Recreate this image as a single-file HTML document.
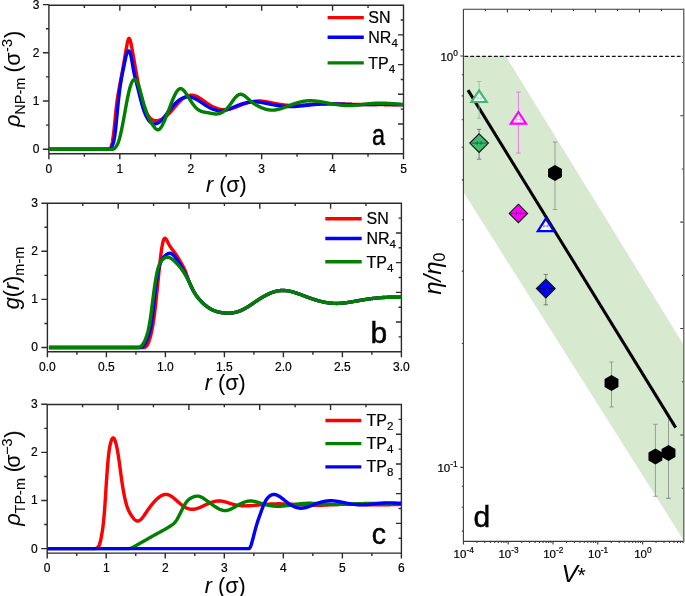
<!DOCTYPE html>
<html><head><meta charset="utf-8"><style>
html,body{margin:0;padding:0;background:#fff;overflow:hidden}
svg{display:block;will-change:transform}
text{font-family:"Liberation Sans", sans-serif;fill:#000;stroke:#000;stroke-width:0.2px}
</style></head><body>
<svg width="685" height="596" viewBox="0 0 685 596">
<rect width="685" height="596" fill="#fff"/>
<path d="M48.9 5.2 H403.5 V153.7 H48.9 Z M48.9 153.7 V159.2 M119.82 153.7 V159.2 M190.74 153.7 V159.2 M261.66 153.7 V159.2 M332.58 153.7 V159.2 M403.5 153.7 V159.2 M84.36 153.7 V156.7 M155.28 153.7 V156.7 M226.2 153.7 V156.7 M297.12 153.7 V156.7 M368.04 153.7 V156.7 M48.9 149.2 H42.9 M48.9 101 H42.9 M48.9 52.8 H42.9 M48.9 4.6 H42.9 M48.9 125.1 H45.9 M48.9 76.9 H45.9 M48.9 28.7 H45.9 M84.36 5.2 V8 M403.5 20.05 H400.7 M119.82 5.2 V10.7 M403.5 34.9 H398 M155.28 5.2 V8 M403.5 49.75 H400.7 M190.74 5.2 V10.7 M403.5 64.6 H398 M226.2 5.2 V8 M403.5 79.45 H400.7 M261.66 5.2 V10.7 M403.5 94.3 H398 M297.12 5.2 V8 M403.5 109.15 H400.7 M332.58 5.2 V10.7 M403.5 124 H398 M368.04 5.2 V8 M403.5 138.85 H400.7" fill="none" stroke="#2b2b2b" stroke-width="1.4"/>
<text x="48.9" y="172.5" font-size="12" text-anchor="middle">0</text>
<text x="119.82" y="172.5" font-size="12" text-anchor="middle">1</text>
<text x="190.74" y="172.5" font-size="12" text-anchor="middle">2</text>
<text x="261.66" y="172.5" font-size="12" text-anchor="middle">3</text>
<text x="332.58" y="172.5" font-size="12" text-anchor="middle">4</text>
<text x="403.5" y="172.5" font-size="12" text-anchor="middle">5</text>
<text x="39.4" y="153.1" font-size="12" text-anchor="end">0</text>
<text x="39.4" y="104.9" font-size="12" text-anchor="end">1</text>
<text x="39.4" y="56.7" font-size="12" text-anchor="end">2</text>
<text x="39.4" y="8.5" font-size="12" text-anchor="end">3</text>
<path d="M48.9 149.2 L108.47 149.2 L108.81 149.19 L109.14 149.16 L109.47 149.07 L109.8 148.89 L110.14 148.6 L110.47 148.18 L110.8 147.59 L111.14 146.8 L111.47 145.8 L111.8 144.55 L112.14 143.07 L112.47 141.33 L112.8 139.34 L113.13 137.09 L113.47 134.56 L113.8 131.77 L114.13 128.71 L114.47 125.45 L114.8 122.06 L115.13 118.62 L115.47 115.2 L115.8 111.87 L116.13 108.72 L116.46 105.79 L116.8 103.09 L117.13 100.59 L117.46 98.26 L117.8 96.08 L118.13 94.02 L118.46 92.07 L118.8 90.19 L119.13 88.37 L119.46 86.59 L119.79 84.82 L120.13 83.08 L120.46 81.34 L120.79 79.61 L121.13 77.88 L121.46 76.13 L121.79 74.37 L122.13 72.58 L122.46 70.77 L122.79 68.92 L123.12 67.03 L123.46 65.1 L123.79 63.16 L124.12 61.19 L124.46 59.22 L124.79 57.24 L125.12 55.26 L125.46 53.29 L125.79 51.34 L126.12 49.41 L126.45 47.52 L126.79 45.69 L127.12 43.96 L127.45 42.39 L127.79 41.02 L128.12 39.88 L128.45 39.03 L128.79 38.5 L129.12 38.34 L129.45 38.56 L129.78 39.14 L130.12 40.02 L130.45 41.16 L130.78 42.52 L131.12 44.05 L131.45 45.72 L131.78 47.47 L132.11 49.27 L132.45 51.1 L132.78 52.96 L133.11 54.83 L133.45 56.72 L133.78 58.63 L134.11 60.54 L134.45 62.46 L134.78 64.38 L135.11 66.29 L135.44 68.19 L135.78 70.09 L136.11 71.96 L136.44 73.82 L136.78 75.65 L137.11 77.46 L137.44 79.24 L137.78 81 L138.11 82.72 L138.44 84.42 L138.77 86.08 L139.11 87.7 L139.44 89.29 L139.77 90.84 L140.11 92.35 L140.44 93.82 L140.77 95.24 L141.11 96.63 L141.44 97.97 L141.77 99.26 L142.1 100.51 L142.44 101.72 L142.77 102.88 L143.1 103.99 L143.44 105.05 L143.77 106.06 L144.1 107.03 L144.44 107.95 L144.77 108.82 L145.1 109.66 L145.43 110.45 L145.77 111.2 L146.1 111.92 L146.43 112.6 L146.77 113.24 L147.1 113.84 L147.43 114.42 L147.77 114.96 L148.1 115.47 L148.43 115.95 L148.76 116.41 L149.1 116.83 L149.43 117.23 L149.76 117.6 L150.1 117.95 L150.43 118.27 L150.76 118.57 L151.1 118.84 L151.43 119.1 L151.76 119.33 L152.09 119.55 L152.43 119.75 L152.76 119.92 L153.09 120.08 L153.43 120.23 L153.76 120.35 L154.09 120.46 L154.43 120.55 L154.76 120.62 L155.09 120.68 L155.42 120.73 L155.76 120.75 L156.09 120.77 L156.42 120.77 L156.76 120.76 L157.09 120.73 L157.42 120.69 L157.75 120.64 L158.09 120.57 L158.42 120.5 L158.75 120.41 L159.09 120.31 L159.42 120.2 L159.75 120.08 L160.09 119.95 L160.42 119.82 L160.75 119.67 L161.08 119.51 L161.42 119.35 L161.75 119.18 L162.08 119 L162.42 118.81 L162.75 118.61 L163.08 118.41 L163.42 118.21 L163.75 117.99 L164.08 117.77 L164.41 117.54 L164.75 117.3 L165.08 117.06 L165.41 116.81 L165.75 116.55 L166.08 116.28 L166.41 116.01 L166.75 115.73 L167.08 115.44 L167.41 115.14 L167.74 114.84 L168.08 114.53 L168.41 114.21 L168.74 113.88 L169.08 113.54 L169.41 113.2 L169.74 112.85 L170.08 112.49 L170.41 112.12 L170.74 111.75 L171.07 111.38 L171.41 111 L171.74 110.61 L172.07 110.22 L172.41 109.83 L172.74 109.43 L173.07 109.04 L173.41 108.64 L173.74 108.24 L174.07 107.84 L174.4 107.43 L174.74 107.03 L175.07 106.63 L175.4 106.23 L175.74 105.84 L176.07 105.44 L176.4 105.05 L176.74 104.66 L177.07 104.28 L177.4 103.9 L177.73 103.52 L178.07 103.15 L178.4 102.79 L178.73 102.43 L179.07 102.08 L179.4 101.74 L179.73 101.4 L180.07 101.08 L180.4 100.76 L180.73 100.45 L181.06 100.14 L181.4 99.85 L181.73 99.56 L182.06 99.28 L182.4 99.01 L182.73 98.75 L183.06 98.5 L183.4 98.26 L183.73 98.02 L184.06 97.79 L184.39 97.58 L184.73 97.37 L185.06 97.17 L185.39 96.98 L185.73 96.8 L186.06 96.63 L186.39 96.46 L186.72 96.31 L187.06 96.17 L187.39 96.03 L187.72 95.91 L188.06 95.79 L188.39 95.69 L188.72 95.6 L189.06 95.51 L189.39 95.44 L189.72 95.37 L190.05 95.32 L190.39 95.27 L190.72 95.24 L191.05 95.22 L191.39 95.21 L191.72 95.21 L192.05 95.21 L192.39 95.23 L192.72 95.27 L193.05 95.31 L193.38 95.36 L193.72 95.43 L194.05 95.5 L194.38 95.58 L194.72 95.68 L195.05 95.78 L195.38 95.9 L195.72 96.02 L196.05 96.15 L196.38 96.29 L196.71 96.43 L197.05 96.59 L197.38 96.75 L197.71 96.92 L198.05 97.09 L198.38 97.28 L198.71 97.46 L199.05 97.66 L199.38 97.85 L199.71 98.06 L200.04 98.27 L200.38 98.48 L200.71 98.7 L201.04 98.92 L201.38 99.14 L201.71 99.37 L202.04 99.6 L202.38 99.83 L202.71 100.06 L203.04 100.3 L203.37 100.54 L203.71 100.78 L204.04 101.02 L204.37 101.26 L204.71 101.5 L205.04 101.74 L205.37 101.98 L205.71 102.22 L206.04 102.45 L206.37 102.69 L206.7 102.93 L207.04 103.16 L207.37 103.39 L207.7 103.62 L208.04 103.84 L208.37 104.07 L208.7 104.28 L209.04 104.5 L209.37 104.71 L209.7 104.92 L210.03 105.12 L210.37 105.32 L210.7 105.51 L211.03 105.71 L211.37 105.89 L211.7 106.08 L212.03 106.26 L212.36 106.43 L212.7 106.6 L213.03 106.77 L213.36 106.93 L213.7 107.09 L214.03 107.25 L214.36 107.4 L214.7 107.54 L215.03 107.69 L215.36 107.82 L215.69 107.96 L216.03 108.08 L216.36 108.21 L216.69 108.33 L217.03 108.44 L217.36 108.55 L217.69 108.66 L218.03 108.76 L218.36 108.85 L218.69 108.95 L219.02 109.03 L219.36 109.11 L219.69 109.19 L220.02 109.26 L220.36 109.33 L220.69 109.39 L221.02 109.45 L221.36 109.5 L221.69 109.55 L222.02 109.59 L222.35 109.62 L222.69 109.65 L223.02 109.68 L223.35 109.7 L223.69 109.72 L224.02 109.73 L224.35 109.73 L224.69 109.73 L225.02 109.72 L225.35 109.71 L225.68 109.69 L226.02 109.67 L226.35 109.64 L226.68 109.6 L227.02 109.57 L227.35 109.52 L227.68 109.47 L228.02 109.42 L228.35 109.36 L228.68 109.29 L229.01 109.22 L229.35 109.15 L229.68 109.08 L230.01 109 L230.35 108.91 L230.68 108.82 L231.01 108.73 L231.35 108.64 L231.68 108.54 L232.01 108.44 L232.34 108.33 L232.68 108.23 L233.01 108.12 L233.34 108.01 L233.68 107.89 L234.01 107.78 L234.34 107.66 L234.68 107.54 L235.01 107.42 L235.34 107.29 L235.67 107.17 L236.01 107.04 L236.34 106.91 L236.67 106.79 L237.01 106.66 L237.34 106.53 L237.67 106.4 L238.01 106.27 L238.34 106.14 L238.67 106.01 L239 105.88 L239.34 105.74 L239.67 105.61 L240 105.49 L240.34 105.36 L240.67 105.23 L241 105.1 L241.33 104.98 L241.67 104.85 L242 104.73 L242.33 104.6 L242.67 104.48 L243 104.36 L243.33 104.24 L243.67 104.12 L244 104.01 L244.33 103.89 L244.66 103.78 L245 103.67 L245.33 103.55 L245.66 103.45 L246 103.34 L246.33 103.23 L246.66 103.13 L247 103.03 L247.33 102.93 L247.66 102.83 L247.99 102.73 L248.33 102.64 L248.66 102.54 L248.99 102.45 L249.33 102.37 L249.66 102.28 L249.99 102.2 L250.33 102.12 L250.66 102.04 L250.99 101.96 L251.32 101.89 L251.66 101.82 L251.99 101.75 L252.32 101.68 L252.66 101.62 L252.99 101.56 L253.32 101.5 L253.66 101.45 L253.99 101.39 L254.32 101.35 L254.65 101.3 L254.99 101.26 L255.32 101.22 L255.65 101.18 L255.99 101.15 L256.32 101.12 L256.65 101.09 L256.99 101.07 L257.32 101.05 L257.65 101.03 L257.98 101.02 L258.32 101.01 L258.65 101 L258.98 101 L259.32 101 L259.65 101.01 L259.98 101.02 L260.32 101.03 L260.65 101.04 L260.98 101.06 L261.31 101.09 L261.65 101.11 L261.98 101.14 L262.31 101.17 L262.65 101.2 L262.98 101.24 L263.31 101.28 L263.65 101.32 L263.98 101.37 L264.31 101.41 L264.64 101.46 L264.98 101.51 L265.31 101.56 L265.64 101.62 L265.98 101.68 L266.31 101.73 L266.64 101.79 L266.97 101.85 L267.31 101.91 L267.64 101.98 L267.97 102.04 L268.31 102.11 L268.64 102.17 L268.97 102.24 L269.31 102.31 L269.64 102.38 L269.97 102.44 L270.3 102.51 L270.64 102.58 L270.97 102.65 L271.3 102.72 L271.64 102.79 L271.97 102.86 L272.3 102.93 L272.64 103 L272.97 103.07 L273.3 103.13 L273.63 103.2 L273.97 103.27 L274.3 103.33 L274.63 103.4 L274.97 103.47 L275.3 103.53 L275.63 103.59 L275.97 103.66 L276.3 103.72 L276.63 103.78 L276.96 103.84 L277.3 103.9 L277.63 103.96 L277.96 104.02 L278.3 104.08 L278.63 104.14 L278.96 104.2 L279.3 104.25 L279.63 104.31 L279.96 104.36 L280.29 104.41 L280.63 104.46 L280.96 104.52 L281.29 104.56 L281.63 104.61 L281.96 104.66 L282.29 104.71 L282.63 104.75 L282.96 104.8 L283.29 104.84 L283.62 104.88 L283.96 104.92 L284.29 104.96 L284.62 105 L284.96 105.03 L285.29 105.07 L285.62 105.1 L285.96 105.14 L286.29 105.17 L286.62 105.2 L286.95 105.22 L287.29 105.25 L287.62 105.27 L287.95 105.3 L288.29 105.32 L288.62 105.34 L288.95 105.36 L289.29 105.37 L289.62 105.39 L289.95 105.4 L290.28 105.41 L290.62 105.42 L290.95 105.43 L291.28 105.44 L291.62 105.45 L291.95 105.45 L292.28 105.45 L292.62 105.46 L292.95 105.46 L293.28 105.46 L293.61 105.45 L293.95 105.45 L294.28 105.45 L294.61 105.44 L294.95 105.44 L295.28 105.43 L295.61 105.42 L295.94 105.41 L296.28 105.4 L296.61 105.39 L296.94 105.37 L297.28 105.36 L297.61 105.35 L297.94 105.33 L298.28 105.32 L298.61 105.3 L298.94 105.28 L299.27 105.26 L299.61 105.24 L299.94 105.22 L300.27 105.2 L300.61 105.18 L300.94 105.16 L301.27 105.14 L301.61 105.12 L301.94 105.09 L302.27 105.07 L302.6 105.05 L302.94 105.02 L303.27 105 L303.6 104.97 L303.94 104.95 L304.27 104.92 L304.6 104.9 L304.94 104.87 L305.27 104.84 L305.6 104.82 L305.93 104.79 L306.27 104.77 L306.6 104.74 L306.93 104.71 L307.27 104.69 L307.6 104.66 L307.93 104.63 L308.27 104.61 L308.6 104.58 L308.93 104.55 L309.26 104.53 L309.6 104.5 L309.93 104.48 L310.26 104.45 L310.6 104.43 L310.93 104.4 L311.26 104.38 L311.6 104.35 L311.93 104.33 L312.26 104.31 L312.59 104.28 L312.93 104.26 L313.26 104.24 L313.59 104.22 L313.93 104.2 L314.26 104.18 L314.59 104.16 L314.93 104.14 L315.26 104.12 L315.59 104.1 L315.92 104.08 L316.26 104.06 L316.59 104.04 L316.92 104.03 L317.26 104.01 L317.59 103.99 L317.92 103.98 L318.26 103.96 L318.59 103.95 L318.92 103.93 L319.25 103.92 L319.59 103.9 L319.92 103.89 L320.25 103.88 L320.59 103.86 L320.92 103.85 L321.25 103.84 L321.58 103.83 L321.92 103.82 L322.25 103.81 L322.58 103.8 L322.92 103.79 L323.25 103.78 L323.58 103.77 L323.92 103.76 L324.25 103.76 L324.58 103.75 L324.91 103.74 L325.25 103.74 L325.58 103.73 L325.91 103.72 L326.25 103.72 L326.58 103.72 L326.91 103.71 L327.25 103.71 L327.58 103.71 L327.91 103.7 L328.24 103.7 L328.58 103.7 L328.91 103.7 L329.24 103.7 L329.58 103.7 L329.91 103.7 L330.24 103.7 L330.58 103.7 L330.91 103.7 L331.24 103.71 L331.57 103.71 L331.91 103.71 L332.24 103.72 L332.57 103.72 L332.91 103.73 L333.24 103.73 L333.57 103.74 L333.91 103.74 L334.24 103.75 L334.57 103.75 L334.9 103.76 L335.24 103.77 L335.57 103.78 L335.9 103.78 L336.24 103.79 L336.57 103.8 L336.9 103.81 L337.24 103.82 L337.57 103.83 L337.9 103.84 L338.23 103.85 L338.57 103.86 L338.9 103.87 L339.23 103.88 L339.57 103.89 L339.9 103.9 L340.23 103.91 L340.57 103.92 L340.9 103.93 L341.23 103.94 L341.56 103.95 L341.9 103.96 L342.23 103.98 L342.56 103.99 L342.9 104 L343.23 104.01 L343.56 104.02 L343.9 104.04 L344.23 104.05 L344.56 104.06 L344.89 104.07 L345.23 104.08 L345.56 104.1 L345.89 104.11 L346.23 104.12 L346.56 104.13 L346.89 104.15 L347.23 104.16 L347.56 104.17 L347.89 104.18 L348.22 104.19 L348.56 104.21 L348.89 104.22 L349.22 104.23 L349.56 104.24 L349.89 104.25 L350.22 104.26 L350.55 104.27 L350.89 104.29 L351.22 104.3 L351.55 104.31 L351.89 104.32 L352.22 104.33 L352.55 104.34 L352.89 104.35 L353.22 104.36 L353.55 104.37 L353.88 104.37 L354.22 104.38 L354.55 104.39 L354.88 104.4 L355.22 104.41 L355.55 104.42 L355.88 104.42 L356.22 104.43 L356.55 104.44 L356.88 104.45 L357.21 104.45 L357.55 104.46 L357.88 104.46 L358.21 104.47 L358.55 104.48 L358.88 104.48 L359.21 104.49 L359.55 104.49 L359.88 104.5 L360.21 104.5 L360.54 104.51 L360.88 104.51 L361.21 104.52 L361.54 104.52 L361.88 104.52 L362.21 104.53 L362.54 104.53 L362.88 104.54 L363.21 104.54 L363.54 104.54 L363.87 104.55 L364.21 104.55 L364.54 104.55 L364.87 104.56 L365.21 104.56 L365.54 104.56 L365.87 104.56 L366.21 104.57 L366.54 104.57 L366.87 104.57 L367.2 104.57 L367.54 104.57 L367.87 104.58 L368.2 104.58 L368.54 104.58 L368.87 104.58 L369.2 104.58 L369.54 104.59 L369.87 104.59 L370.2 104.59 L370.53 104.59 L370.87 104.59 L371.2 104.6 L371.53 104.6 L371.87 104.6 L372.2 104.6 L372.53 104.6 L372.87 104.6 L373.2 104.61 L373.53 104.61 L373.86 104.61 L374.2 104.61 L374.53 104.61 L374.86 104.61 L375.2 104.62 L375.53 104.62 L375.86 104.62 L376.19 104.62 L376.53 104.62 L376.86 104.62 L377.19 104.63 L377.53 104.63 L377.86 104.63 L378.19 104.63 L378.53 104.63 L378.86 104.64 L379.19 104.64 L379.52 104.64 L379.86 104.64 L380.19 104.65 L380.52 104.65 L380.86 104.65 L381.19 104.65 L381.52 104.66 L381.86 104.66 L382.19 104.66 L382.52 104.66 L382.85 104.67 L383.19 104.67 L383.52 104.67 L383.85 104.67 L384.19 104.68 L384.52 104.68 L384.85 104.68 L385.19 104.68 L385.52 104.69 L385.85 104.69 L386.18 104.69 L386.52 104.69 L386.85 104.7 L387.18 104.7 L387.52 104.7 L387.85 104.71 L388.18 104.71 L388.52 104.71 L388.85 104.71 L389.18 104.72 L389.51 104.72 L389.85 104.72 L390.18 104.73 L390.51 104.73 L390.85 104.73 L391.18 104.74 L391.51 104.74 L391.85 104.74 L392.18 104.74 L392.51 104.75 L392.84 104.75 L393.18 104.75 L393.51 104.76 L393.84 104.76 L394.18 104.76 L394.51 104.77 L394.84 104.77 L395.18 104.77 L395.51 104.78 L395.84 104.78 L396.17 104.78 L396.51 104.79 L396.84 104.79 L397.17 104.79 L397.51 104.8 L397.84 104.8 L398.17 104.8 L398.51 104.81 L398.84 104.81 L399.17 104.81 L399.5 104.82 L399.84 104.82 L400.17 104.82 L400.5 104.83 L400.84 104.83 L401.17 104.83 L401.5 104.84 L401.84 104.84 L402.17 104.84 L402.5 104.85 L402.83 104.85 L403.17 104.85 L403.5 104.86" fill="none" stroke="#ff0000" stroke-width="3.4" stroke-linejoin="round" stroke-linecap="butt"/>
<path d="M48.9 149.2 L109.18 149.2 L109.52 149.16 L109.85 149.04 L110.18 148.83 L110.52 148.55 L110.85 148.19 L111.18 147.75 L111.52 147.23 L111.85 146.64 L112.18 145.97 L112.52 145.22 L112.85 144.35 L113.18 143.34 L113.52 142.17 L113.85 140.79 L114.18 139.19 L114.52 137.35 L114.85 135.22 L115.18 132.78 L115.52 130.02 L115.85 126.96 L116.18 123.68 L116.51 120.24 L116.85 116.7 L117.18 113.14 L117.51 109.62 L117.85 106.21 L118.18 102.94 L118.51 99.8 L118.85 96.81 L119.18 93.97 L119.51 91.28 L119.85 88.74 L120.18 86.36 L120.51 84.13 L120.85 82.02 L121.18 80.03 L121.51 78.14 L121.85 76.33 L122.18 74.6 L122.51 72.91 L122.85 71.27 L123.18 69.66 L123.51 68.05 L123.85 66.44 L124.18 64.81 L124.51 63.16 L124.85 61.52 L125.18 59.92 L125.51 58.37 L125.85 56.92 L126.18 55.58 L126.51 54.39 L126.85 53.36 L127.18 52.52 L127.51 51.84 L127.85 51.35 L128.18 51.02 L128.51 50.88 L128.85 50.91 L129.18 51.12 L129.51 51.53 L129.85 52.15 L130.18 52.98 L130.51 54.05 L130.85 55.36 L131.18 56.91 L131.51 58.67 L131.85 60.56 L132.18 62.55 L132.51 64.58 L132.85 66.6 L133.18 68.55 L133.51 70.38 L133.85 72.09 L134.18 73.68 L134.51 75.18 L134.85 76.6 L135.18 77.95 L135.51 79.25 L135.85 80.51 L136.18 81.75 L136.51 82.99 L136.85 84.23 L137.18 85.5 L137.51 86.81 L137.85 88.14 L138.18 89.5 L138.51 90.87 L138.85 92.25 L139.18 93.64 L139.51 95.02 L139.85 96.39 L140.18 97.75 L140.51 99.08 L140.85 100.38 L141.18 101.64 L141.51 102.87 L141.85 104.06 L142.18 105.22 L142.51 106.33 L142.85 107.41 L143.18 108.45 L143.51 109.45 L143.85 110.42 L144.18 111.35 L144.51 112.24 L144.85 113.09 L145.18 113.9 L145.51 114.68 L145.85 115.42 L146.18 116.12 L146.51 116.79 L146.85 117.42 L147.18 118.02 L147.51 118.59 L147.85 119.12 L148.18 119.63 L148.51 120.1 L148.85 120.54 L149.18 120.95 L149.51 121.33 L149.85 121.68 L150.18 122.01 L150.51 122.3 L150.85 122.57 L151.18 122.82 L151.51 123.03 L151.85 123.23 L152.18 123.39 L152.51 123.54 L152.85 123.66 L153.18 123.75 L153.51 123.83 L153.85 123.88 L154.18 123.92 L154.51 123.93 L154.85 123.92 L155.18 123.89 L155.51 123.85 L155.85 123.78 L156.18 123.7 L156.51 123.6 L156.85 123.49 L157.18 123.36 L157.51 123.21 L157.85 123.04 L158.18 122.86 L158.51 122.66 L158.85 122.45 L159.18 122.22 L159.51 121.98 L159.85 121.72 L160.18 121.45 L160.51 121.16 L160.85 120.86 L161.18 120.55 L161.51 120.22 L161.85 119.88 L162.18 119.53 L162.51 119.16 L162.85 118.78 L163.18 118.39 L163.51 117.99 L163.85 117.58 L164.18 117.16 L164.51 116.73 L164.85 116.3 L165.18 115.86 L165.51 115.42 L165.85 114.97 L166.18 114.52 L166.51 114.06 L166.85 113.61 L167.18 113.15 L167.51 112.7 L167.85 112.24 L168.18 111.79 L168.51 111.34 L168.85 110.9 L169.18 110.46 L169.51 110.02 L169.85 109.59 L170.18 109.17 L170.51 108.75 L170.85 108.34 L171.18 107.93 L171.51 107.53 L171.85 107.14 L172.18 106.75 L172.51 106.37 L172.85 105.99 L173.18 105.62 L173.51 105.26 L173.85 104.9 L174.18 104.55 L174.51 104.21 L174.85 103.87 L175.18 103.54 L175.51 103.22 L175.85 102.9 L176.18 102.6 L176.51 102.29 L176.85 102 L177.18 101.71 L177.51 101.43 L177.85 101.16 L178.18 100.89 L178.51 100.64 L178.85 100.39 L179.18 100.14 L179.51 99.91 L179.84 99.68 L180.18 99.46 L180.51 99.25 L180.84 99.05 L181.18 98.85 L181.51 98.67 L181.84 98.49 L182.18 98.32 L182.51 98.16 L182.84 98.01 L183.18 97.86 L183.51 97.73 L183.84 97.6 L184.18 97.48 L184.51 97.38 L184.84 97.28 L185.18 97.19 L185.51 97.1 L185.84 97.03 L186.18 96.97 L186.51 96.92 L186.84 96.87 L187.18 96.84 L187.51 96.81 L187.84 96.8 L188.18 96.8 L188.51 96.8 L188.84 96.82 L189.18 96.84 L189.51 96.87 L189.84 96.92 L190.18 96.97 L190.51 97.03 L190.84 97.1 L191.18 97.18 L191.51 97.27 L191.84 97.37 L192.18 97.47 L192.51 97.58 L192.84 97.7 L193.18 97.82 L193.51 97.95 L193.84 98.09 L194.18 98.24 L194.51 98.39 L194.84 98.54 L195.18 98.7 L195.51 98.87 L195.84 99.04 L196.18 99.22 L196.51 99.4 L196.84 99.59 L197.18 99.78 L197.51 99.98 L197.84 100.17 L198.18 100.37 L198.51 100.58 L198.84 100.79 L199.18 101 L199.51 101.21 L199.84 101.43 L200.18 101.64 L200.51 101.86 L200.84 102.08 L201.18 102.31 L201.51 102.53 L201.84 102.75 L202.18 102.98 L202.51 103.2 L202.84 103.43 L203.18 103.65 L203.51 103.88 L203.84 104.1 L204.18 104.32 L204.51 104.55 L204.84 104.77 L205.18 104.99 L205.51 105.2 L205.84 105.42 L206.18 105.63 L206.51 105.84 L206.84 106.05 L207.18 106.25 L207.51 106.46 L207.84 106.65 L208.18 106.85 L208.51 107.04 L208.84 107.23 L209.18 107.41 L209.51 107.59 L209.84 107.76 L210.18 107.93 L210.51 108.1 L210.84 108.26 L211.18 108.41 L211.51 108.56 L211.84 108.71 L212.18 108.85 L212.51 108.99 L212.84 109.13 L213.18 109.25 L213.51 109.38 L213.84 109.5 L214.18 109.61 L214.51 109.72 L214.84 109.82 L215.18 109.92 L215.51 110.01 L215.84 110.1 L216.18 110.19 L216.51 110.26 L216.84 110.34 L217.18 110.4 L217.51 110.46 L217.84 110.52 L218.18 110.57 L218.51 110.61 L218.84 110.65 L219.18 110.69 L219.51 110.71 L219.84 110.74 L220.18 110.75 L220.51 110.76 L220.84 110.77 L221.18 110.76 L221.51 110.75 L221.84 110.74 L222.18 110.72 L222.51 110.69 L222.84 110.66 L223.18 110.62 L223.51 110.57 L223.84 110.52 L224.18 110.46 L224.51 110.4 L224.84 110.33 L225.18 110.26 L225.51 110.18 L225.84 110.09 L226.18 110 L226.51 109.91 L226.84 109.81 L227.18 109.71 L227.51 109.6 L227.84 109.49 L228.18 109.38 L228.51 109.26 L228.84 109.14 L229.18 109.02 L229.51 108.89 L229.84 108.76 L230.18 108.63 L230.51 108.5 L230.84 108.37 L231.18 108.23 L231.51 108.09 L231.84 107.95 L232.18 107.81 L232.51 107.67 L232.84 107.52 L233.18 107.38 L233.51 107.24 L233.84 107.09 L234.18 106.95 L234.51 106.81 L234.84 106.66 L235.18 106.52 L235.51 106.38 L235.84 106.23 L236.18 106.09 L236.51 105.96 L236.84 105.82 L237.18 105.68 L237.51 105.55 L237.84 105.42 L238.18 105.29 L238.51 105.16 L238.84 105.03 L239.18 104.91 L239.51 104.78 L239.84 104.66 L240.18 104.54 L240.51 104.43 L240.84 104.31 L241.18 104.2 L241.51 104.09 L241.84 103.98 L242.18 103.88 L242.51 103.77 L242.84 103.67 L243.18 103.57 L243.51 103.48 L243.84 103.38 L244.17 103.29 L244.51 103.2 L244.84 103.11 L245.17 103.03 L245.51 102.95 L245.84 102.87 L246.17 102.79 L246.51 102.72 L246.84 102.65 L247.17 102.58 L247.51 102.51 L247.84 102.45 L248.17 102.39 L248.51 102.33 L248.84 102.28 L249.17 102.22 L249.51 102.18 L249.84 102.13 L250.17 102.09 L250.51 102.05 L250.84 102.01 L251.17 101.98 L251.51 101.95 L251.84 101.92 L252.17 101.89 L252.51 101.87 L252.84 101.86 L253.17 101.84 L253.51 101.83 L253.84 101.82 L254.17 101.82 L254.51 101.82 L254.84 101.82 L255.17 101.83 L255.51 101.84 L255.84 101.85 L256.17 101.87 L256.51 101.89 L256.84 101.91 L257.17 101.93 L257.51 101.96 L257.84 101.99 L258.17 102.02 L258.51 102.06 L258.84 102.1 L259.17 102.14 L259.51 102.18 L259.84 102.22 L260.17 102.27 L260.51 102.32 L260.84 102.37 L261.17 102.42 L261.51 102.47 L261.84 102.53 L262.17 102.59 L262.51 102.64 L262.84 102.7 L263.17 102.77 L263.51 102.83 L263.84 102.89 L264.17 102.96 L264.51 103.02 L264.84 103.09 L265.17 103.15 L265.51 103.22 L265.84 103.29 L266.17 103.36 L266.51 103.43 L266.84 103.49 L267.17 103.56 L267.51 103.63 L267.84 103.7 L268.17 103.77 L268.51 103.84 L268.84 103.91 L269.17 103.98 L269.51 104.05 L269.84 104.11 L270.17 104.18 L270.51 104.25 L270.84 104.32 L271.17 104.38 L271.51 104.45 L271.84 104.51 L272.17 104.58 L272.51 104.64 L272.84 104.7 L273.17 104.77 L273.51 104.83 L273.84 104.89 L274.17 104.95 L274.51 105.01 L274.84 105.07 L275.17 105.13 L275.51 105.19 L275.84 105.25 L276.17 105.3 L276.51 105.36 L276.84 105.41 L277.17 105.47 L277.51 105.52 L277.84 105.57 L278.17 105.62 L278.51 105.67 L278.84 105.72 L279.17 105.77 L279.51 105.81 L279.84 105.86 L280.17 105.9 L280.51 105.95 L280.84 105.99 L281.17 106.03 L281.51 106.07 L281.84 106.11 L282.17 106.15 L282.51 106.18 L282.84 106.22 L283.17 106.25 L283.51 106.28 L283.84 106.31 L284.17 106.34 L284.51 106.37 L284.84 106.4 L285.17 106.42 L285.51 106.45 L285.84 106.47 L286.17 106.49 L286.51 106.51 L286.84 106.53 L287.17 106.54 L287.51 106.56 L287.84 106.57 L288.17 106.58 L288.51 106.59 L288.84 106.6 L289.17 106.6 L289.51 106.61 L289.84 106.61 L290.17 106.61 L290.51 106.61 L290.84 106.61 L291.17 106.6 L291.51 106.6 L291.84 106.59 L292.17 106.58 L292.51 106.57 L292.84 106.56 L293.17 106.55 L293.51 106.54 L293.84 106.52 L294.17 106.51 L294.51 106.49 L294.84 106.47 L295.17 106.45 L295.51 106.43 L295.84 106.41 L296.17 106.39 L296.51 106.36 L296.84 106.34 L297.17 106.31 L297.51 106.29 L297.84 106.26 L298.17 106.23 L298.51 106.21 L298.84 106.18 L299.17 106.15 L299.51 106.12 L299.84 106.08 L300.17 106.05 L300.51 106.02 L300.84 105.99 L301.17 105.95 L301.51 105.92 L301.84 105.88 L302.17 105.85 L302.51 105.81 L302.84 105.78 L303.17 105.74 L303.51 105.71 L303.84 105.67 L304.17 105.63 L304.51 105.6 L304.84 105.56 L305.17 105.52 L305.51 105.48 L305.84 105.45 L306.17 105.41 L306.51 105.37 L306.84 105.33 L307.17 105.3 L307.51 105.26 L307.84 105.22 L308.17 105.19 L308.5 105.15 L308.84 105.11 L309.17 105.08 L309.5 105.04 L309.84 105.01 L310.17 104.97 L310.5 104.94 L310.84 104.9 L311.17 104.87 L311.5 104.84 L311.84 104.8 L312.17 104.77 L312.5 104.74 L312.84 104.71 L313.17 104.68 L313.5 104.65 L313.84 104.62 L314.17 104.59 L314.5 104.56 L314.84 104.53 L315.17 104.51 L315.5 104.48 L315.84 104.45 L316.17 104.43 L316.5 104.4 L316.84 104.38 L317.17 104.35 L317.5 104.33 L317.84 104.31 L318.17 104.29 L318.5 104.27 L318.84 104.24 L319.17 104.22 L319.5 104.2 L319.84 104.18 L320.17 104.17 L320.5 104.15 L320.84 104.13 L321.17 104.11 L321.5 104.1 L321.84 104.08 L322.17 104.07 L322.5 104.05 L322.84 104.04 L323.17 104.02 L323.5 104.01 L323.84 104 L324.17 103.99 L324.5 103.98 L324.84 103.97 L325.17 103.96 L325.5 103.95 L325.84 103.94 L326.17 103.93 L326.5 103.93 L326.84 103.92 L327.17 103.91 L327.5 103.91 L327.84 103.9 L328.17 103.9 L328.5 103.9 L328.84 103.9 L329.17 103.89 L329.5 103.89 L329.84 103.89 L330.17 103.89 L330.5 103.89 L330.84 103.89 L331.17 103.9 L331.5 103.9 L331.84 103.9 L332.17 103.91 L332.5 103.91 L332.84 103.92 L333.17 103.92 L333.5 103.93 L333.84 103.93 L334.17 103.94 L334.5 103.95 L334.84 103.95 L335.17 103.96 L335.5 103.97 L335.84 103.98 L336.17 103.99 L336.5 104 L336.84 104.01 L337.17 104.02 L337.5 104.03 L337.84 104.04 L338.17 104.05 L338.5 104.06 L338.84 104.08 L339.17 104.09 L339.5 104.1 L339.84 104.11 L340.17 104.13 L340.5 104.14 L340.84 104.15 L341.17 104.16 L341.5 104.18 L341.84 104.19 L342.17 104.2 L342.5 104.22 L342.84 104.23 L343.17 104.25 L343.5 104.26 L343.84 104.27 L344.17 104.29 L344.5 104.3 L344.84 104.31 L345.17 104.33 L345.5 104.34 L345.84 104.35 L346.17 104.37 L346.5 104.38 L346.84 104.39 L347.17 104.41 L347.5 104.42 L347.84 104.43 L348.17 104.45 L348.5 104.46 L348.84 104.47 L349.17 104.48 L349.5 104.49 L349.84 104.5 L350.17 104.52 L350.5 104.53 L350.84 104.54 L351.17 104.55 L351.5 104.56 L351.84 104.57 L352.17 104.58 L352.5 104.58 L352.84 104.59 L353.17 104.6 L353.5 104.61 L353.84 104.61 L354.17 104.62 L354.5 104.63 L354.84 104.63 L355.17 104.64 L355.5 104.64 L355.84 104.65 L356.17 104.65 L356.5 104.65 L356.84 104.66 L357.17 104.66 L357.5 104.66 L357.84 104.66 L358.17 104.67 L358.5 104.67 L358.84 104.67 L359.17 104.67 L359.5 104.67 L359.84 104.67 L360.17 104.67 L360.5 104.67 L360.84 104.67 L361.17 104.66 L361.5 104.66 L361.84 104.66 L362.17 104.66 L362.5 104.66 L362.84 104.65 L363.17 104.65 L363.5 104.65 L363.84 104.64 L364.17 104.64 L364.5 104.64 L364.84 104.63 L365.17 104.63 L365.5 104.62 L365.84 104.62 L366.17 104.61 L366.5 104.61 L366.84 104.6 L367.17 104.6 L367.5 104.59 L367.84 104.59 L368.17 104.58 L368.5 104.58 L368.84 104.57 L369.17 104.57 L369.5 104.56 L369.84 104.56 L370.17 104.55 L370.5 104.54 L370.84 104.54 L371.17 104.53 L371.5 104.53 L371.83 104.52 L372.17 104.51 L372.5 104.51 L372.83 104.5 L373.17 104.5 L373.5 104.49 L373.83 104.48 L374.17 104.48 L374.5 104.47 L374.83 104.47 L375.17 104.46 L375.5 104.45 L375.83 104.45 L376.17 104.44 L376.5 104.44 L376.83 104.43 L377.17 104.43 L377.5 104.42 L377.83 104.42 L378.17 104.41 L378.5 104.41 L378.83 104.41 L379.17 104.4 L379.5 104.4 L379.83 104.39 L380.17 104.39 L380.5 104.39 L380.83 104.38 L381.17 104.38 L381.5 104.38 L381.83 104.38 L382.17 104.37 L382.5 104.37 L382.83 104.37 L383.17 104.37 L383.5 104.37 L383.83 104.37 L384.17 104.37 L384.5 104.37 L384.83 104.37 L385.17 104.37 L385.5 104.37 L385.83 104.37 L386.17 104.37 L386.5 104.37 L386.83 104.37 L387.17 104.37 L387.5 104.37 L387.83 104.38 L388.17 104.38 L388.5 104.38 L388.83 104.38 L389.17 104.39 L389.5 104.39 L389.83 104.39 L390.17 104.39 L390.5 104.4 L390.83 104.4 L391.17 104.41 L391.5 104.41 L391.83 104.41 L392.17 104.42 L392.5 104.42 L392.83 104.43 L393.17 104.43 L393.5 104.44 L393.83 104.44 L394.17 104.45 L394.5 104.45 L394.83 104.46 L395.17 104.46 L395.5 104.47 L395.83 104.47 L396.17 104.48 L396.5 104.48 L396.83 104.49 L397.17 104.49 L397.5 104.5 L397.83 104.51 L398.17 104.51 L398.5 104.52 L398.83 104.52 L399.17 104.53 L399.5 104.54 L399.83 104.54 L400.17 104.55 L400.5 104.56 L400.83 104.56 L401.17 104.57 L401.5 104.58 L401.83 104.58 L402.17 104.59 L402.5 104.6 L402.83 104.6 L403.17 104.61 L403.5 104.61" fill="none" stroke="#0000ff" stroke-width="3.4" stroke-linejoin="round" stroke-linecap="butt"/>
<path d="M48.9 149.2 L112.73 149.2 L113.06 149.17 L113.39 149.09 L113.73 148.95 L114.06 148.75 L114.39 148.51 L114.73 148.22 L115.06 147.89 L115.39 147.51 L115.73 147.09 L116.06 146.63 L116.39 146.13 L116.72 145.59 L117.06 145.01 L117.39 144.37 L117.72 143.67 L118.06 142.89 L118.39 142.04 L118.72 141.1 L119.06 140.07 L119.39 138.95 L119.72 137.74 L120.06 136.46 L120.39 135.1 L120.72 133.67 L121.05 132.18 L121.39 130.64 L121.72 129.04 L122.05 127.4 L122.39 125.72 L122.72 124 L123.05 122.25 L123.39 120.47 L123.72 118.67 L124.05 116.85 L124.39 115.02 L124.72 113.18 L125.05 111.34 L125.38 109.51 L125.72 107.68 L126.05 105.86 L126.38 104.06 L126.72 102.29 L127.05 100.55 L127.38 98.85 L127.72 97.19 L128.05 95.59 L128.38 94.04 L128.72 92.55 L129.05 91.13 L129.38 89.79 L129.71 88.53 L130.05 87.34 L130.38 86.24 L130.71 85.21 L131.05 84.27 L131.38 83.41 L131.71 82.63 L132.05 81.93 L132.38 81.32 L132.71 80.79 L133.05 80.35 L133.38 79.99 L133.71 79.72 L134.04 79.54 L134.38 79.45 L134.71 79.45 L135.04 79.54 L135.38 79.72 L135.71 79.99 L136.04 80.34 L136.38 80.78 L136.71 81.3 L137.04 81.89 L137.38 82.56 L137.71 83.3 L138.04 84.1 L138.37 84.98 L138.71 85.91 L139.04 86.9 L139.37 87.95 L139.71 89.05 L140.04 90.2 L140.37 91.39 L140.71 92.61 L141.04 93.86 L141.37 95.12 L141.71 96.4 L142.04 97.67 L142.37 98.93 L142.7 100.17 L143.04 101.39 L143.37 102.58 L143.7 103.75 L144.04 104.88 L144.37 105.99 L144.7 107.07 L145.04 108.12 L145.37 109.14 L145.7 110.13 L146.04 111.09 L146.37 112.03 L146.7 112.94 L147.03 113.81 L147.37 114.66 L147.7 115.48 L148.03 116.27 L148.37 117.04 L148.7 117.77 L149.03 118.48 L149.37 119.17 L149.7 119.83 L150.03 120.47 L150.37 121.09 L150.7 121.69 L151.03 122.27 L151.36 122.83 L151.7 123.38 L152.03 123.9 L152.36 124.42 L152.7 124.92 L153.03 125.41 L153.36 125.88 L153.7 126.34 L154.03 126.79 L154.36 127.22 L154.7 127.62 L155.03 128 L155.36 128.35 L155.69 128.67 L156.03 128.96 L156.36 129.2 L156.69 129.41 L157.03 129.57 L157.36 129.68 L157.69 129.74 L158.03 129.75 L158.36 129.71 L158.69 129.6 L159.03 129.44 L159.36 129.22 L159.69 128.94 L160.02 128.62 L160.36 128.24 L160.69 127.82 L161.02 127.36 L161.36 126.86 L161.69 126.32 L162.02 125.74 L162.36 125.13 L162.69 124.49 L163.02 123.83 L163.35 123.14 L163.69 122.43 L164.02 121.7 L164.35 120.95 L164.69 120.19 L165.02 119.41 L165.35 118.62 L165.69 117.81 L166.02 116.99 L166.35 116.16 L166.69 115.32 L167.02 114.48 L167.35 113.62 L167.68 112.75 L168.02 111.89 L168.35 111.01 L168.68 110.13 L169.02 109.25 L169.35 108.37 L169.68 107.48 L170.02 106.6 L170.35 105.72 L170.68 104.85 L171.02 103.98 L171.35 103.12 L171.68 102.27 L172.01 101.43 L172.35 100.6 L172.68 99.79 L173.01 98.99 L173.35 98.21 L173.68 97.45 L174.01 96.71 L174.35 95.99 L174.68 95.29 L175.01 94.62 L175.35 93.98 L175.68 93.36 L176.01 92.78 L176.34 92.22 L176.68 91.7 L177.01 91.22 L177.34 90.77 L177.68 90.36 L178.01 89.99 L178.34 89.66 L178.68 89.37 L179.01 89.13 L179.34 88.93 L179.68 88.78 L180.01 88.68 L180.34 88.63 L180.67 88.62 L181.01 88.67 L181.34 88.75 L181.67 88.88 L182.01 89.04 L182.34 89.25 L182.67 89.49 L183.01 89.76 L183.34 90.06 L183.67 90.4 L184.01 90.76 L184.34 91.15 L184.67 91.56 L185 91.99 L185.34 92.44 L185.67 92.91 L186 93.4 L186.34 93.9 L186.67 94.41 L187 94.93 L187.34 95.45 L187.67 95.99 L188 96.52 L188.34 97.06 L188.67 97.6 L189 98.14 L189.33 98.67 L189.67 99.2 L190 99.73 L190.33 100.25 L190.67 100.77 L191 101.28 L191.33 101.78 L191.67 102.27 L192 102.76 L192.33 103.24 L192.67 103.71 L193 104.17 L193.33 104.63 L193.66 105.07 L194 105.49 L194.33 105.91 L194.66 106.32 L195 106.71 L195.33 107.08 L195.66 107.45 L196 107.79 L196.33 108.12 L196.66 108.44 L197 108.74 L197.33 109.02 L197.66 109.28 L197.99 109.54 L198.33 109.77 L198.66 109.99 L198.99 110.2 L199.33 110.4 L199.66 110.58 L199.99 110.75 L200.33 110.91 L200.66 111.06 L200.99 111.19 L201.33 111.32 L201.66 111.44 L201.99 111.55 L202.32 111.65 L202.66 111.75 L202.99 111.84 L203.32 111.92 L203.66 112 L203.99 112.07 L204.32 112.14 L204.66 112.2 L204.99 112.26 L205.32 112.32 L205.66 112.37 L205.99 112.42 L206.32 112.48 L206.65 112.53 L206.99 112.58 L207.32 112.63 L207.65 112.68 L207.99 112.74 L208.32 112.79 L208.65 112.85 L208.99 112.92 L209.32 112.98 L209.65 113.05 L209.99 113.12 L210.32 113.18 L210.65 113.25 L210.98 113.32 L211.32 113.39 L211.65 113.45 L211.98 113.52 L212.32 113.58 L212.65 113.64 L212.98 113.69 L213.32 113.75 L213.65 113.79 L213.98 113.84 L214.32 113.88 L214.65 113.91 L214.98 113.94 L215.31 113.95 L215.65 113.97 L215.98 113.97 L216.31 113.97 L216.65 113.96 L216.98 113.94 L217.31 113.91 L217.65 113.87 L217.98 113.81 L218.31 113.75 L218.64 113.68 L218.98 113.6 L219.31 113.51 L219.64 113.41 L219.98 113.3 L220.31 113.18 L220.64 113.04 L220.98 112.9 L221.31 112.75 L221.64 112.58 L221.98 112.41 L222.31 112.22 L222.64 112.02 L222.97 111.82 L223.31 111.6 L223.64 111.37 L223.97 111.12 L224.31 110.87 L224.64 110.61 L224.97 110.33 L225.31 110.05 L225.64 109.75 L225.97 109.44 L226.31 109.12 L226.64 108.78 L226.97 108.44 L227.3 108.08 L227.64 107.71 L227.97 107.33 L228.3 106.94 L228.64 106.53 L228.97 106.12 L229.3 105.69 L229.64 105.25 L229.97 104.8 L230.3 104.35 L230.64 103.89 L230.97 103.42 L231.3 102.96 L231.63 102.49 L231.97 102.02 L232.3 101.55 L232.63 101.08 L232.97 100.62 L233.3 100.16 L233.63 99.71 L233.97 99.27 L234.3 98.84 L234.63 98.42 L234.97 98.01 L235.3 97.61 L235.63 97.23 L235.96 96.87 L236.3 96.53 L236.63 96.2 L236.96 95.9 L237.3 95.61 L237.63 95.36 L237.96 95.12 L238.3 94.92 L238.63 94.74 L238.96 94.59 L239.3 94.47 L239.63 94.38 L239.96 94.32 L240.29 94.29 L240.63 94.29 L240.96 94.31 L241.29 94.35 L241.63 94.42 L241.96 94.51 L242.29 94.62 L242.63 94.75 L242.96 94.9 L243.29 95.07 L243.63 95.25 L243.96 95.45 L244.29 95.66 L244.62 95.89 L244.96 96.13 L245.29 96.38 L245.62 96.64 L245.96 96.91 L246.29 97.19 L246.62 97.47 L246.96 97.76 L247.29 98.06 L247.62 98.36 L247.96 98.66 L248.29 98.96 L248.62 99.26 L248.95 99.56 L249.29 99.86 L249.62 100.16 L249.95 100.45 L250.29 100.74 L250.62 101.02 L250.95 101.3 L251.29 101.57 L251.62 101.84 L251.95 102.1 L252.29 102.35 L252.62 102.6 L252.95 102.85 L253.28 103.09 L253.62 103.33 L253.95 103.56 L254.28 103.79 L254.62 104.01 L254.95 104.23 L255.28 104.44 L255.62 104.65 L255.95 104.85 L256.28 105.05 L256.62 105.25 L256.95 105.44 L257.28 105.63 L257.61 105.81 L257.95 105.99 L258.28 106.17 L258.61 106.34 L258.95 106.51 L259.28 106.67 L259.61 106.83 L259.95 106.99 L260.28 107.15 L260.61 107.3 L260.95 107.44 L261.28 107.59 L261.61 107.73 L261.94 107.87 L262.28 108 L262.61 108.13 L262.94 108.26 L263.28 108.38 L263.61 108.5 L263.94 108.62 L264.28 108.73 L264.61 108.84 L264.94 108.95 L265.28 109.05 L265.61 109.15 L265.94 109.24 L266.27 109.33 L266.61 109.42 L266.94 109.5 L267.27 109.58 L267.61 109.65 L267.94 109.72 L268.27 109.78 L268.61 109.84 L268.94 109.89 L269.27 109.94 L269.6 109.99 L269.94 110.03 L270.27 110.06 L270.6 110.09 L270.94 110.12 L271.27 110.13 L271.6 110.15 L271.94 110.16 L272.27 110.16 L272.6 110.16 L272.94 110.15 L273.27 110.13 L273.6 110.11 L273.93 110.09 L274.27 110.06 L274.6 110.03 L274.93 109.99 L275.27 109.94 L275.6 109.9 L275.93 109.84 L276.27 109.79 L276.6 109.73 L276.93 109.66 L277.27 109.59 L277.6 109.52 L277.93 109.45 L278.26 109.37 L278.6 109.28 L278.93 109.2 L279.26 109.11 L279.6 109.02 L279.93 108.92 L280.26 108.82 L280.6 108.72 L280.93 108.62 L281.26 108.51 L281.6 108.41 L281.93 108.3 L282.26 108.18 L282.59 108.07 L282.93 107.95 L283.26 107.84 L283.59 107.72 L283.93 107.6 L284.26 107.48 L284.59 107.35 L284.93 107.23 L285.26 107.1 L285.59 106.98 L285.93 106.85 L286.26 106.72 L286.59 106.6 L286.92 106.47 L287.26 106.34 L287.59 106.21 L287.92 106.08 L288.26 105.96 L288.59 105.83 L288.92 105.7 L289.26 105.57 L289.59 105.45 L289.92 105.32 L290.26 105.2 L290.59 105.07 L290.92 104.95 L291.25 104.82 L291.59 104.7 L291.92 104.58 L292.25 104.46 L292.59 104.34 L292.92 104.22 L293.25 104.1 L293.59 103.99 L293.92 103.87 L294.25 103.76 L294.59 103.65 L294.92 103.53 L295.25 103.42 L295.58 103.32 L295.92 103.21 L296.25 103.1 L296.58 103 L296.92 102.9 L297.25 102.8 L297.58 102.7 L297.92 102.6 L298.25 102.51 L298.58 102.42 L298.92 102.32 L299.25 102.24 L299.58 102.15 L299.91 102.06 L300.25 101.98 L300.58 101.9 L300.91 101.82 L301.25 101.75 L301.58 101.68 L301.91 101.6 L302.25 101.54 L302.58 101.47 L302.91 101.41 L303.25 101.35 L303.58 101.29 L303.91 101.24 L304.24 101.18 L304.58 101.14 L304.91 101.09 L305.24 101.05 L305.58 101.01 L305.91 100.97 L306.24 100.94 L306.58 100.9 L306.91 100.88 L307.24 100.85 L307.58 100.83 L307.91 100.81 L308.24 100.79 L308.57 100.78 L308.91 100.77 L309.24 100.76 L309.57 100.76 L309.91 100.75 L310.24 100.75 L310.57 100.75 L310.91 100.76 L311.24 100.76 L311.57 100.77 L311.91 100.79 L312.24 100.8 L312.57 100.81 L312.9 100.83 L313.24 100.85 L313.57 100.87 L313.9 100.9 L314.24 100.92 L314.57 100.95 L314.9 100.98 L315.24 101.01 L315.57 101.04 L315.9 101.08 L316.24 101.11 L316.57 101.15 L316.9 101.19 L317.23 101.23 L317.57 101.28 L317.9 101.32 L318.23 101.36 L318.57 101.41 L318.9 101.46 L319.23 101.51 L319.57 101.56 L319.9 101.61 L320.23 101.66 L320.57 101.72 L320.9 101.77 L321.23 101.83 L321.56 101.88 L321.9 101.94 L322.23 102 L322.56 102.05 L322.9 102.11 L323.23 102.17 L323.56 102.23 L323.9 102.3 L324.23 102.36 L324.56 102.42 L324.89 102.48 L325.23 102.55 L325.56 102.61 L325.89 102.67 L326.23 102.74 L326.56 102.8 L326.89 102.86 L327.23 102.93 L327.56 102.99 L327.89 103.06 L328.23 103.12 L328.56 103.18 L328.89 103.25 L329.22 103.31 L329.56 103.37 L329.89 103.44 L330.22 103.5 L330.56 103.56 L330.89 103.63 L331.22 103.69 L331.56 103.75 L331.89 103.81 L332.22 103.87 L332.56 103.93 L332.89 103.99 L333.22 104.05 L333.55 104.1 L333.89 104.16 L334.22 104.22 L334.55 104.27 L334.89 104.33 L335.22 104.38 L335.55 104.44 L335.89 104.49 L336.22 104.54 L336.55 104.59 L336.89 104.64 L337.22 104.69 L337.55 104.74 L337.88 104.78 L338.22 104.83 L338.55 104.88 L338.88 104.92 L339.22 104.96 L339.55 105 L339.88 105.04 L340.22 105.08 L340.55 105.12 L340.88 105.16 L341.22 105.19 L341.55 105.23 L341.88 105.26 L342.21 105.29 L342.55 105.32 L342.88 105.35 L343.21 105.38 L343.55 105.4 L343.88 105.43 L344.21 105.45 L344.55 105.47 L344.88 105.49 L345.21 105.51 L345.55 105.52 L345.88 105.54 L346.21 105.55 L346.54 105.56 L346.88 105.57 L347.21 105.57 L347.54 105.58 L347.88 105.58 L348.21 105.58 L348.54 105.58 L348.88 105.58 L349.21 105.58 L349.54 105.57 L349.88 105.57 L350.21 105.56 L350.54 105.55 L350.87 105.54 L351.21 105.52 L351.54 105.51 L351.87 105.49 L352.21 105.48 L352.54 105.46 L352.87 105.44 L353.21 105.42 L353.54 105.39 L353.87 105.37 L354.21 105.35 L354.54 105.32 L354.87 105.29 L355.2 105.27 L355.54 105.24 L355.87 105.21 L356.2 105.18 L356.54 105.15 L356.87 105.11 L357.2 105.08 L357.54 105.05 L357.87 105.01 L358.2 104.98 L358.54 104.94 L358.87 104.91 L359.2 104.87 L359.53 104.83 L359.87 104.8 L360.2 104.76 L360.53 104.72 L360.87 104.68 L361.2 104.64 L361.53 104.6 L361.87 104.56 L362.2 104.53 L362.53 104.49 L362.87 104.45 L363.2 104.41 L363.53 104.37 L363.86 104.33 L364.2 104.29 L364.53 104.25 L364.86 104.21 L365.2 104.17 L365.53 104.13 L365.86 104.09 L366.2 104.06 L366.53 104.02 L366.86 103.98 L367.2 103.94 L367.53 103.91 L367.86 103.87 L368.19 103.84 L368.53 103.8 L368.86 103.77 L369.19 103.73 L369.53 103.7 L369.86 103.67 L370.19 103.64 L370.53 103.61 L370.86 103.58 L371.19 103.55 L371.53 103.52 L371.86 103.49 L372.19 103.47 L372.52 103.44 L372.86 103.42 L373.19 103.4 L373.52 103.38 L373.86 103.36 L374.19 103.34 L374.52 103.32 L374.86 103.3 L375.19 103.29 L375.52 103.27 L375.86 103.26 L376.19 103.25 L376.52 103.24 L376.85 103.23 L377.19 103.22 L377.52 103.21 L377.85 103.2 L378.19 103.19 L378.52 103.19 L378.85 103.18 L379.19 103.18 L379.52 103.18 L379.85 103.18 L380.18 103.18 L380.52 103.18 L380.85 103.18 L381.18 103.18 L381.52 103.18 L381.85 103.19 L382.18 103.19 L382.52 103.2 L382.85 103.2 L383.18 103.21 L383.52 103.22 L383.85 103.22 L384.18 103.23 L384.51 103.24 L384.85 103.25 L385.18 103.27 L385.51 103.28 L385.85 103.29 L386.18 103.3 L386.51 103.32 L386.85 103.33 L387.18 103.35 L387.51 103.36 L387.85 103.38 L388.18 103.4 L388.51 103.42 L388.84 103.43 L389.18 103.45 L389.51 103.47 L389.84 103.49 L390.18 103.51 L390.51 103.53 L390.84 103.56 L391.18 103.58 L391.51 103.6 L391.84 103.62 L392.18 103.65 L392.51 103.67 L392.84 103.69 L393.17 103.72 L393.51 103.74 L393.84 103.77 L394.17 103.79 L394.51 103.82 L394.84 103.85 L395.17 103.87 L395.51 103.9 L395.84 103.93 L396.17 103.96 L396.51 103.98 L396.84 104.01 L397.17 104.04 L397.5 104.07 L397.84 104.1 L398.17 104.13 L398.5 104.16 L398.84 104.19 L399.17 104.22 L399.5 104.25 L399.84 104.28 L400.17 104.31 L400.5 104.34 L400.84 104.37 L401.17 104.4 L401.5 104.43 L401.83 104.46 L402.17 104.49 L402.5 104.52 L402.83 104.55 L403.17 104.58 L403.5 104.61" fill="none" stroke="#008000" stroke-width="3.4" stroke-linejoin="round" stroke-linecap="butt"/>
<line x1="327.6" y1="17.6" x2="363.8" y2="17.6" stroke="#ff0000" stroke-width="3.4"/>
<text x="368.3" y="22.9" font-size="16">SN</text>
<line x1="327.6" y1="37.3" x2="363.8" y2="37.3" stroke="#0000ff" stroke-width="3.4"/>
<text x="368.3" y="42.6" font-size="16">NR<tspan font-size="11.5" dy="4.2">4</tspan></text>
<line x1="327.6" y1="62.9" x2="363.8" y2="62.9" stroke="#008000" stroke-width="3.4"/>
<text x="368.3" y="69.1" font-size="16">TP<tspan font-size="11.5" dy="4.2">4</tspan></text>
<path d="M47.4 203.3 H401.4 V351.7 H47.4 Z M47.4 351.7 V357.2 M106.4 351.7 V357.2 M165.4 351.7 V357.2 M224.4 351.7 V357.2 M283.4 351.7 V357.2 M342.4 351.7 V357.2 M401.4 351.7 V357.2 M76.9 351.7 V354.7 M135.9 351.7 V354.7 M194.9 351.7 V354.7 M253.9 351.7 V354.7 M312.9 351.7 V354.7 M371.9 351.7 V354.7 M47.4 347.5 H41.4 M47.4 299.4 H41.4 M47.4 251.3 H41.4 M47.4 203.2 H41.4 M47.4 323.45 H44.4 M47.4 275.35 H44.4 M47.4 227.25 H44.4 M82.8 203.3 V206.1 M401.4 218.14 H398.6 M118.2 203.3 V208.8 M401.4 232.98 H395.9 M153.6 203.3 V206.1 M401.4 247.82 H398.6 M189 203.3 V208.8 M401.4 262.66 H395.9 M224.4 203.3 V206.1 M401.4 277.5 H398.6 M259.8 203.3 V208.8 M401.4 292.34 H395.9 M295.2 203.3 V206.1 M401.4 307.18 H398.6 M330.6 203.3 V208.8 M401.4 322.02 H395.9 M366 203.3 V206.1 M401.4 336.86 H398.6" fill="none" stroke="#2b2b2b" stroke-width="1.4"/>
<text x="47.4" y="370.5" font-size="12" text-anchor="middle">0.0</text>
<text x="106.4" y="370.5" font-size="12" text-anchor="middle">0.5</text>
<text x="165.4" y="370.5" font-size="12" text-anchor="middle">1.0</text>
<text x="224.4" y="370.5" font-size="12" text-anchor="middle">1.5</text>
<text x="283.4" y="370.5" font-size="12" text-anchor="middle">2.0</text>
<text x="342.4" y="370.5" font-size="12" text-anchor="middle">2.5</text>
<text x="401.4" y="370.5" font-size="12" text-anchor="middle">3.0</text>
<text x="37.9" y="351.4" font-size="12" text-anchor="end">0</text>
<text x="37.9" y="303.3" font-size="12" text-anchor="end">1</text>
<text x="37.9" y="255.2" font-size="12" text-anchor="end">2</text>
<text x="37.9" y="207.1" font-size="12" text-anchor="end">3</text>
<path d="M47.2 404.5 H401.4 V553.1 H47.2 Z M47.2 553.1 V558.6 M106.23 553.1 V558.6 M165.27 553.1 V558.6 M224.3 553.1 V558.6 M283.33 553.1 V558.6 M342.37 553.1 V558.6 M401.4 553.1 V558.6 M76.72 553.1 V556.1 M135.75 553.1 V556.1 M194.78 553.1 V556.1 M253.82 553.1 V556.1 M312.85 553.1 V556.1 M371.88 553.1 V556.1 M47.2 548.6 H41.2 M47.2 500.5 H41.2 M47.2 452.4 H41.2 M47.2 404.3 H41.2 M47.2 524.55 H44.2 M47.2 476.45 H44.2 M47.2 428.35 H44.2 M82.62 404.5 V407.3 M401.4 419.36 H398.6 M118.04 404.5 V410 M401.4 434.22 H395.9 M153.46 404.5 V407.3 M401.4 449.08 H398.6 M188.88 404.5 V410 M401.4 463.94 H395.9 M224.3 404.5 V407.3 M401.4 478.8 H398.6 M259.72 404.5 V410 M401.4 493.66 H395.9 M295.14 404.5 V407.3 M401.4 508.52 H398.6 M330.56 404.5 V410 M401.4 523.38 H395.9 M365.98 404.5 V407.3 M401.4 538.24 H398.6" fill="none" stroke="#2b2b2b" stroke-width="1.4"/>
<text x="47.2" y="571.9" font-size="12" text-anchor="middle">0</text>
<text x="106.23" y="571.9" font-size="12" text-anchor="middle">1</text>
<text x="165.27" y="571.9" font-size="12" text-anchor="middle">2</text>
<text x="224.3" y="571.9" font-size="12" text-anchor="middle">3</text>
<text x="283.33" y="571.9" font-size="12" text-anchor="middle">4</text>
<text x="342.37" y="571.9" font-size="12" text-anchor="middle">5</text>
<text x="401.4" y="571.9" font-size="12" text-anchor="middle">6</text>
<text x="37.7" y="552.5" font-size="12" text-anchor="end">0</text>
<text x="37.7" y="504.4" font-size="12" text-anchor="end">1</text>
<text x="37.7" y="456.3" font-size="12" text-anchor="end">2</text>
<text x="37.7" y="408.2" font-size="12" text-anchor="end">3</text>
<path d="M48.93 347.5 L141.8 347.5 L142.13 347.51 L142.47 347.52 L142.8 347.54 L143.13 347.55 L143.47 347.55 L143.8 347.54 L144.13 347.5 L144.47 347.44 L144.8 347.33 L145.13 347.19 L145.47 347 L145.8 346.76 L146.13 346.46 L146.47 346.09 L146.8 345.65 L147.13 345.16 L147.47 344.59 L147.8 343.96 L148.13 343.26 L148.46 342.5 L148.8 341.66 L149.13 340.76 L149.46 339.79 L149.8 338.75 L150.13 337.64 L150.46 336.45 L150.8 335.19 L151.13 333.84 L151.46 332.41 L151.8 330.87 L152.13 329.23 L152.46 327.47 L152.8 325.6 L153.13 323.6 L153.46 321.47 L153.8 319.21 L154.13 316.81 L154.46 314.27 L154.8 311.62 L155.13 308.86 L155.46 305.99 L155.8 303.03 L156.13 299.98 L156.46 296.84 L156.8 293.64 L157.13 290.37 L157.46 287.04 L157.8 283.68 L158.13 280.3 L158.46 276.93 L158.8 273.59 L159.13 270.29 L159.46 267.07 L159.8 263.93 L160.13 260.9 L160.46 258 L160.8 255.26 L161.13 252.67 L161.46 250.26 L161.79 248.04 L162.13 246.02 L162.46 244.23 L162.79 242.67 L163.13 241.36 L163.46 240.3 L163.79 239.48 L164.13 238.89 L164.46 238.51 L164.79 238.32 L165.13 238.3 L165.46 238.45 L165.79 238.75 L166.13 239.16 L166.46 239.67 L166.79 240.25 L167.13 240.89 L167.46 241.56 L167.79 242.24 L168.13 242.9 L168.46 243.54 L168.79 244.15 L169.13 244.74 L169.46 245.3 L169.79 245.85 L170.13 246.38 L170.46 246.89 L170.79 247.38 L171.13 247.87 L171.46 248.34 L171.79 248.8 L172.13 249.25 L172.46 249.7 L172.79 250.14 L173.13 250.58 L173.46 251.01 L173.79 251.45 L174.13 251.89 L174.46 252.33 L174.79 252.78 L175.12 253.23 L175.46 253.69 L175.79 254.16 L176.12 254.65 L176.46 255.14 L176.79 255.65 L177.12 256.17 L177.46 256.71 L177.79 257.25 L178.12 257.8 L178.46 258.35 L178.79 258.92 L179.12 259.49 L179.46 260.06 L179.79 260.63 L180.12 261.21 L180.46 261.79 L180.79 262.37 L181.12 262.95 L181.46 263.53 L181.79 264.11 L182.12 264.69 L182.46 265.27 L182.79 265.86 L183.12 266.47 L183.46 267.1 L183.79 267.75 L184.12 268.43 L184.46 269.13 L184.79 269.88 L185.12 270.66 L185.46 271.49 L185.79 272.36 L186.12 273.28 L186.46 274.22 L186.79 275.19 L187.12 276.16 L187.45 277.13 L187.79 278.1 L188.12 279.05 L188.45 279.97 L188.79 280.87 L189.12 281.73 L189.45 282.57 L189.79 283.39 L190.12 284.18 L190.45 284.95 L190.79 285.69 L191.12 286.41 L191.45 287.11 L191.79 287.79 L192.12 288.46 L192.45 289.1 L192.79 289.73 L193.12 290.33 L193.45 290.93 L193.79 291.51 L194.12 292.07 L194.45 292.62 L194.79 293.16 L195.12 293.69 L195.45 294.2 L195.79 294.7 L196.12 295.18 L196.45 295.66 L196.79 296.13 L197.12 296.58 L197.45 297.03 L197.79 297.46 L198.12 297.88 L198.45 298.3 L198.79 298.71 L199.12 299.11 L199.45 299.5 L199.79 299.88 L200.12 300.26 L200.45 300.63 L200.78 300.99 L201.12 301.35 L201.45 301.7 L201.78 302.05 L202.12 302.38 L202.45 302.72 L202.78 303.04 L203.12 303.36 L203.45 303.67 L203.78 303.98 L204.12 304.28 L204.45 304.58 L204.78 304.86 L205.12 305.15 L205.45 305.42 L205.78 305.69 L206.12 305.96 L206.45 306.21 L206.78 306.47 L207.12 306.71 L207.45 306.95 L207.78 307.19 L208.12 307.42 L208.45 307.64 L208.78 307.86 L209.12 308.07 L209.45 308.27 L209.78 308.47 L210.12 308.67 L210.45 308.86 L210.78 309.04 L211.12 309.22 L211.45 309.39 L211.78 309.56 L212.12 309.72 L212.45 309.88 L212.78 310.03 L213.12 310.18 L213.45 310.33 L213.78 310.46 L214.11 310.6 L214.45 310.73 L214.78 310.86 L215.11 310.98 L215.45 311.09 L215.78 311.21 L216.11 311.32 L216.45 311.42 L216.78 311.52 L217.11 311.62 L217.45 311.72 L217.78 311.81 L218.11 311.9 L218.45 311.98 L218.78 312.06 L219.11 312.14 L219.45 312.21 L219.78 312.29 L220.11 312.36 L220.45 312.42 L220.78 312.49 L221.11 312.55 L221.45 312.6 L221.78 312.66 L222.11 312.71 L222.45 312.76 L222.78 312.81 L223.11 312.85 L223.45 312.89 L223.78 312.93 L224.11 312.97 L224.45 313 L224.78 313.03 L225.11 313.06 L225.45 313.08 L225.78 313.1 L226.11 313.12 L226.44 313.13 L226.78 313.14 L227.11 313.15 L227.44 313.16 L227.78 313.16 L228.11 313.16 L228.44 313.15 L228.78 313.15 L229.11 313.14 L229.44 313.12 L229.78 313.1 L230.11 313.08 L230.44 313.06 L230.78 313.03 L231.11 313 L231.44 312.97 L231.78 312.93 L232.11 312.89 L232.44 312.85 L232.78 312.8 L233.11 312.75 L233.44 312.7 L233.78 312.64 L234.11 312.58 L234.44 312.51 L234.78 312.44 L235.11 312.37 L235.44 312.29 L235.78 312.22 L236.11 312.13 L236.44 312.05 L236.78 311.95 L237.11 311.86 L237.44 311.76 L237.78 311.66 L238.11 311.55 L238.44 311.45 L238.78 311.33 L239.11 311.21 L239.44 311.09 L239.77 310.97 L240.11 310.84 L240.44 310.71 L240.77 310.57 L241.11 310.43 L241.44 310.28 L241.77 310.13 L242.11 309.98 L242.44 309.82 L242.77 309.66 L243.11 309.49 L243.44 309.32 L243.77 309.15 L244.11 308.97 L244.44 308.8 L244.77 308.61 L245.11 308.43 L245.44 308.24 L245.77 308.04 L246.11 307.85 L246.44 307.65 L246.77 307.45 L247.11 307.25 L247.44 307.04 L247.77 306.83 L248.11 306.62 L248.44 306.41 L248.77 306.2 L249.11 305.98 L249.44 305.77 L249.77 305.55 L250.11 305.33 L250.44 305.11 L250.77 304.88 L251.11 304.66 L251.44 304.43 L251.77 304.21 L252.11 303.98 L252.44 303.76 L252.77 303.53 L253.1 303.3 L253.44 303.07 L253.77 302.85 L254.1 302.62 L254.44 302.39 L254.77 302.16 L255.1 301.94 L255.44 301.71 L255.77 301.48 L256.1 301.26 L256.44 301.03 L256.77 300.81 L257.1 300.59 L257.44 300.36 L257.77 300.14 L258.1 299.92 L258.44 299.71 L258.77 299.49 L259.1 299.28 L259.44 299.06 L259.77 298.85 L260.1 298.64 L260.44 298.43 L260.77 298.23 L261.1 298.02 L261.44 297.82 L261.77 297.62 L262.1 297.42 L262.44 297.22 L262.77 297.02 L263.1 296.83 L263.44 296.64 L263.77 296.45 L264.1 296.26 L264.44 296.08 L264.77 295.89 L265.1 295.71 L265.43 295.53 L265.77 295.36 L266.1 295.18 L266.43 295.01 L266.77 294.84 L267.1 294.67 L267.43 294.51 L267.77 294.35 L268.1 294.19 L268.43 294.03 L268.77 293.88 L269.1 293.73 L269.43 293.58 L269.77 293.44 L270.1 293.29 L270.43 293.15 L270.77 293.02 L271.1 292.88 L271.43 292.75 L271.77 292.63 L272.1 292.5 L272.43 292.38 L272.77 292.26 L273.1 292.15 L273.43 292.04 L273.77 291.93 L274.1 291.83 L274.43 291.73 L274.77 291.63 L275.1 291.53 L275.43 291.44 L275.77 291.36 L276.1 291.27 L276.43 291.2 L276.77 291.12 L277.1 291.05 L277.43 290.98 L277.77 290.92 L278.1 290.86 L278.43 290.8 L278.76 290.75 L279.1 290.7 L279.43 290.66 L279.76 290.62 L280.1 290.58 L280.43 290.55 L280.76 290.52 L281.1 290.5 L281.43 290.48 L281.76 290.46 L282.1 290.45 L282.43 290.45 L282.76 290.45 L283.1 290.45 L283.43 290.45 L283.76 290.46 L284.1 290.48 L284.43 290.5 L284.76 290.52 L285.1 290.54 L285.43 290.57 L285.76 290.6 L286.1 290.64 L286.43 290.68 L286.76 290.72 L287.1 290.76 L287.43 290.81 L287.76 290.86 L288.1 290.92 L288.43 290.98 L288.76 291.04 L289.1 291.1 L289.43 291.17 L289.76 291.24 L290.1 291.31 L290.43 291.38 L290.76 291.46 L291.09 291.54 L291.43 291.62 L291.76 291.7 L292.09 291.79 L292.43 291.88 L292.76 291.97 L293.09 292.06 L293.43 292.16 L293.76 292.25 L294.09 292.35 L294.43 292.45 L294.76 292.56 L295.09 292.66 L295.43 292.77 L295.76 292.87 L296.09 292.98 L296.43 293.09 L296.76 293.21 L297.09 293.32 L297.43 293.43 L297.76 293.55 L298.09 293.67 L298.43 293.78 L298.76 293.9 L299.09 294.02 L299.43 294.14 L299.76 294.27 L300.09 294.39 L300.43 294.51 L300.76 294.64 L301.09 294.76 L301.43 294.89 L301.76 295.01 L302.09 295.14 L302.43 295.26 L302.76 295.39 L303.09 295.52 L303.43 295.64 L303.76 295.77 L304.09 295.9 L304.42 296.02 L304.76 296.15 L305.09 296.28 L305.42 296.4 L305.76 296.53 L306.09 296.65 L306.42 296.78 L306.76 296.9 L307.09 297.03 L307.42 297.15 L307.76 297.28 L308.09 297.4 L308.42 297.52 L308.76 297.64 L309.09 297.76 L309.42 297.88 L309.76 298 L310.09 298.12 L310.42 298.23 L310.76 298.35 L311.09 298.47 L311.42 298.58 L311.76 298.69 L312.09 298.81 L312.42 298.92 L312.76 299.03 L313.09 299.14 L313.42 299.25 L313.76 299.36 L314.09 299.47 L314.42 299.57 L314.76 299.68 L315.09 299.78 L315.42 299.89 L315.76 299.99 L316.09 300.09 L316.42 300.19 L316.76 300.29 L317.09 300.38 L317.42 300.48 L317.75 300.58 L318.09 300.67 L318.42 300.76 L318.75 300.86 L319.09 300.95 L319.42 301.03 L319.75 301.12 L320.09 301.21 L320.42 301.29 L320.75 301.38 L321.09 301.46 L321.42 301.54 L321.75 301.62 L322.09 301.7 L322.42 301.77 L322.75 301.85 L323.09 301.92 L323.42 302 L323.75 302.07 L324.09 302.13 L324.42 302.2 L324.75 302.27 L325.09 302.33 L325.42 302.4 L325.75 302.46 L326.09 302.52 L326.42 302.57 L326.75 302.63 L327.09 302.68 L327.42 302.74 L327.75 302.79 L328.09 302.84 L328.42 302.88 L328.75 302.93 L329.09 302.97 L329.42 303.01 L329.75 303.05 L330.08 303.09 L330.42 303.13 L330.75 303.16 L331.08 303.19 L331.42 303.22 L331.75 303.25 L332.08 303.28 L332.42 303.3 L332.75 303.32 L333.08 303.34 L333.42 303.36 L333.75 303.38 L334.08 303.39 L334.42 303.4 L334.75 303.41 L335.08 303.42 L335.42 303.42 L335.75 303.43 L336.08 303.43 L336.42 303.43 L336.75 303.43 L337.08 303.42 L337.42 303.41 L337.75 303.41 L338.08 303.4 L338.42 303.38 L338.75 303.37 L339.08 303.36 L339.42 303.34 L339.75 303.32 L340.08 303.3 L340.42 303.28 L340.75 303.26 L341.08 303.23 L341.42 303.21 L341.75 303.18 L342.08 303.15 L342.42 303.12 L342.75 303.09 L343.08 303.05 L343.41 303.02 L343.75 302.98 L344.08 302.95 L344.41 302.91 L344.75 302.87 L345.08 302.83 L345.41 302.79 L345.75 302.75 L346.08 302.7 L346.41 302.66 L346.75 302.61 L347.08 302.57 L347.41 302.52 L347.75 302.47 L348.08 302.42 L348.41 302.37 L348.75 302.32 L349.08 302.27 L349.41 302.22 L349.75 302.17 L350.08 302.11 L350.41 302.06 L350.75 302 L351.08 301.95 L351.41 301.89 L351.75 301.84 L352.08 301.78 L352.41 301.72 L352.75 301.67 L353.08 301.61 L353.41 301.55 L353.75 301.49 L354.08 301.43 L354.41 301.37 L354.75 301.31 L355.08 301.25 L355.41 301.2 L355.75 301.14 L356.08 301.08 L356.41 301.02 L356.74 300.96 L357.08 300.9 L357.41 300.84 L357.74 300.78 L358.08 300.72 L358.41 300.66 L358.74 300.6 L359.08 300.54 L359.41 300.48 L359.74 300.42 L360.08 300.37 L360.41 300.31 L360.74 300.25 L361.08 300.19 L361.41 300.14 L361.74 300.08 L362.08 300.02 L362.41 299.97 L362.74 299.91 L363.08 299.86 L363.41 299.8 L363.74 299.75 L364.08 299.7 L364.41 299.64 L364.74 299.59 L365.08 299.54 L365.41 299.49 L365.74 299.43 L366.08 299.38 L366.41 299.33 L366.74 299.28 L367.08 299.23 L367.41 299.18 L367.74 299.13 L368.08 299.09 L368.41 299.04 L368.74 298.99 L369.07 298.94 L369.41 298.9 L369.74 298.85 L370.07 298.81 L370.41 298.76 L370.74 298.72 L371.07 298.67 L371.41 298.63 L371.74 298.59 L372.07 298.55 L372.41 298.51 L372.74 298.46 L373.07 298.42 L373.41 298.38 L373.74 298.35 L374.07 298.31 L374.41 298.27 L374.74 298.23 L375.07 298.19 L375.41 298.16 L375.74 298.12 L376.07 298.09 L376.41 298.05 L376.74 298.02 L377.07 297.99 L377.41 297.95 L377.74 297.92 L378.07 297.89 L378.41 297.86 L378.74 297.83 L379.07 297.8 L379.41 297.78 L379.74 297.75 L380.07 297.72 L380.41 297.69 L380.74 297.67 L381.07 297.64 L381.41 297.62 L381.74 297.6 L382.07 297.57 L382.4 297.55 L382.74 297.53 L383.07 297.51 L383.4 297.49 L383.74 297.47 L384.07 297.46 L384.4 297.44 L384.74 297.42 L385.07 297.41 L385.4 297.39 L385.74 297.38 L386.07 297.36 L386.4 297.35 L386.74 297.34 L387.07 297.33 L387.4 297.32 L387.74 297.31 L388.07 297.3 L388.4 297.29 L388.74 297.28 L389.07 297.27 L389.4 297.26 L389.74 297.26 L390.07 297.25 L390.4 297.24 L390.74 297.24 L391.07 297.23 L391.4 297.23 L391.74 297.23 L392.07 297.22 L392.4 297.22 L392.74 297.22 L393.07 297.21 L393.4 297.21 L393.74 297.21 L394.07 297.21 L394.4 297.21 L394.74 297.21 L395.07 297.21 L395.4 297.21 L395.73 297.21 L396.07 297.21 L396.4 297.21 L396.73 297.21 L397.07 297.21 L397.4 297.21 L397.73 297.21 L398.07 297.21 L398.4 297.22 L398.73 297.22 L399.07 297.22 L399.4 297.22 L399.73 297.22 L400.07 297.23 L400.4 297.23 L400.73 297.23 L401.07 297.23 L401.4 297.24" fill="none" stroke="#ff0000" stroke-width="3.4" stroke-linejoin="round" stroke-linecap="butt"/>
<path d="M48.93 347.5 L139.44 347.5 L139.77 347.5 L140.11 347.5 L140.44 347.49 L140.77 347.46 L141.11 347.42 L141.44 347.35 L141.77 347.25 L142.11 347.11 L142.44 346.93 L142.77 346.71 L143.11 346.43 L143.44 346.09 L143.77 345.7 L144.11 345.26 L144.44 344.77 L144.77 344.23 L145.11 343.65 L145.44 343.03 L145.77 342.37 L146.11 341.67 L146.44 340.93 L146.77 340.17 L147.11 339.37 L147.44 338.54 L147.77 337.69 L148.11 336.81 L148.44 335.89 L148.77 334.91 L149.11 333.86 L149.44 332.72 L149.77 331.47 L150.11 330.11 L150.44 328.61 L150.77 326.96 L151.1 325.15 L151.44 323.16 L151.77 320.97 L152.1 318.57 L152.44 315.99 L152.77 313.26 L153.1 310.4 L153.44 307.45 L153.77 304.45 L154.1 301.42 L154.44 298.4 L154.77 295.41 L155.1 292.51 L155.44 289.7 L155.77 287.03 L156.1 284.48 L156.44 282.07 L156.77 279.78 L157.1 277.62 L157.44 275.59 L157.77 273.69 L158.1 271.91 L158.44 270.26 L158.77 268.74 L159.1 267.34 L159.44 266.05 L159.77 264.89 L160.1 263.82 L160.44 262.86 L160.77 261.98 L161.1 261.2 L161.44 260.48 L161.77 259.84 L162.1 259.26 L162.44 258.74 L162.77 258.27 L163.1 257.83 L163.44 257.43 L163.77 257.06 L164.1 256.71 L164.44 256.37 L164.77 256.05 L165.1 255.73 L165.44 255.43 L165.77 255.14 L166.1 254.87 L166.44 254.62 L166.77 254.38 L167.1 254.17 L167.44 253.97 L167.77 253.8 L168.1 253.65 L168.44 253.52 L168.77 253.42 L169.1 253.35 L169.44 253.31 L169.77 253.29 L170.1 253.31 L170.44 253.35 L170.77 253.43 L171.1 253.55 L171.44 253.69 L171.77 253.87 L172.1 254.08 L172.43 254.31 L172.77 254.57 L173.1 254.86 L173.43 255.17 L173.77 255.51 L174.1 255.86 L174.43 256.24 L174.77 256.64 L175.1 257.05 L175.43 257.48 L175.77 257.92 L176.1 258.38 L176.43 258.84 L176.77 259.32 L177.1 259.81 L177.43 260.31 L177.77 260.81 L178.1 261.32 L178.43 261.84 L178.77 262.36 L179.1 262.89 L179.43 263.43 L179.77 263.97 L180.1 264.52 L180.43 265.08 L180.77 265.64 L181.1 266.21 L181.43 266.79 L181.77 267.36 L182.1 267.95 L182.43 268.54 L182.77 269.13 L183.1 269.73 L183.43 270.34 L183.77 270.95 L184.1 271.57 L184.43 272.19 L184.77 272.82 L185.1 273.45 L185.43 274.1 L185.77 274.75 L186.1 275.4 L186.43 276.07 L186.77 276.74 L187.1 277.42 L187.43 278.11 L187.77 278.81 L188.1 279.52 L188.43 280.24 L188.77 280.96 L189.1 281.69 L189.43 282.43 L189.77 283.17 L190.1 283.9 L190.43 284.64 L190.77 285.37 L191.1 286.1 L191.43 286.82 L191.77 287.53 L192.1 288.23 L192.43 288.92 L192.77 289.59 L193.1 290.25 L193.43 290.88 L193.77 291.5 L194.1 292.1 L194.43 292.67 L194.76 293.23 L195.1 293.77 L195.43 294.29 L195.76 294.8 L196.1 295.29 L196.43 295.76 L196.76 296.22 L197.1 296.67 L197.43 297.11 L197.76 297.53 L198.1 297.95 L198.43 298.35 L198.76 298.74 L199.1 299.13 L199.43 299.5 L199.76 299.88 L200.1 300.24 L200.43 300.6 L200.76 300.95 L201.1 301.3 L201.43 301.65 L201.76 301.98 L202.1 302.32 L202.43 302.65 L202.76 302.97 L203.1 303.29 L203.43 303.6 L203.76 303.9 L204.1 304.21 L204.43 304.5 L204.76 304.79 L205.1 305.08 L205.43 305.35 L205.76 305.63 L206.1 305.9 L206.43 306.16 L206.76 306.42 L207.1 306.67 L207.43 306.91 L207.76 307.15 L208.1 307.38 L208.43 307.61 L208.76 307.83 L209.1 308.05 L209.43 308.26 L209.76 308.46 L210.1 308.66 L210.43 308.85 L210.76 309.04 L211.1 309.22 L211.43 309.4 L211.76 309.56 L212.1 309.73 L212.43 309.89 L212.76 310.04 L213.1 310.19 L213.43 310.34 L213.76 310.47 L214.1 310.61 L214.43 310.74 L214.76 310.87 L215.1 310.99 L215.43 311.1 L215.76 311.22 L216.09 311.32 L216.43 311.43 L216.76 311.53 L217.09 311.63 L217.43 311.72 L217.76 311.81 L218.09 311.9 L218.43 311.98 L218.76 312.06 L219.09 312.14 L219.43 312.21 L219.76 312.28 L220.09 312.35 L220.43 312.42 L220.76 312.48 L221.09 312.54 L221.43 312.6 L221.76 312.65 L222.09 312.71 L222.43 312.76 L222.76 312.8 L223.09 312.85 L223.43 312.89 L223.76 312.93 L224.09 312.96 L224.43 312.99 L224.76 313.02 L225.09 313.05 L225.43 313.08 L225.76 313.1 L226.09 313.11 L226.43 313.13 L226.76 313.14 L227.09 313.15 L227.43 313.16 L227.76 313.16 L228.09 313.16 L228.43 313.15 L228.76 313.15 L229.09 313.14 L229.43 313.12 L229.76 313.11 L230.09 313.09 L230.43 313.06 L230.76 313.04 L231.09 313.01 L231.43 312.97 L231.76 312.94 L232.09 312.9 L232.43 312.85 L232.76 312.8 L233.09 312.75 L233.43 312.7 L233.76 312.64 L234.09 312.58 L234.43 312.52 L234.76 312.45 L235.09 312.38 L235.43 312.3 L235.76 312.22 L236.09 312.14 L236.43 312.05 L236.76 311.96 L237.09 311.87 L237.43 311.77 L237.76 311.67 L238.09 311.56 L238.42 311.45 L238.76 311.34 L239.09 311.22 L239.42 311.1 L239.76 310.97 L240.09 310.85 L240.42 310.71 L240.76 310.58 L241.09 310.43 L241.42 310.29 L241.76 310.14 L242.09 309.99 L242.42 309.83 L242.76 309.67 L243.09 309.5 L243.42 309.33 L243.76 309.16 L244.09 308.98 L244.42 308.8 L244.76 308.62 L245.09 308.43 L245.42 308.24 L245.76 308.05 L246.09 307.86 L246.42 307.66 L246.76 307.46 L247.09 307.26 L247.42 307.05 L247.76 306.84 L248.09 306.63 L248.42 306.42 L248.76 306.21 L249.09 305.99 L249.42 305.78 L249.76 305.56 L250.09 305.34 L250.42 305.12 L250.76 304.89 L251.09 304.67 L251.42 304.44 L251.76 304.22 L252.09 303.99 L252.42 303.77 L252.76 303.54 L253.09 303.31 L253.42 303.08 L253.76 302.86 L254.09 302.63 L254.42 302.4 L254.76 302.17 L255.09 301.95 L255.42 301.72 L255.76 301.49 L256.09 301.27 L256.42 301.04 L256.76 300.82 L257.09 300.6 L257.42 300.37 L257.76 300.15 L258.09 299.93 L258.42 299.72 L258.76 299.5 L259.09 299.29 L259.42 299.07 L259.75 298.86 L260.09 298.65 L260.42 298.44 L260.75 298.24 L261.09 298.03 L261.42 297.83 L261.75 297.63 L262.09 297.43 L262.42 297.23 L262.75 297.03 L263.09 296.84 L263.42 296.65 L263.75 296.46 L264.09 296.27 L264.42 296.08 L264.75 295.9 L265.09 295.72 L265.42 295.54 L265.75 295.36 L266.09 295.19 L266.42 295.02 L266.75 294.85 L267.09 294.68 L267.42 294.52 L267.75 294.36 L268.09 294.2 L268.42 294.04 L268.75 293.89 L269.09 293.74 L269.42 293.59 L269.75 293.44 L270.09 293.3 L270.42 293.16 L270.75 293.02 L271.09 292.89 L271.42 292.76 L271.75 292.63 L272.09 292.51 L272.42 292.39 L272.75 292.27 L273.09 292.15 L273.42 292.04 L273.75 291.94 L274.09 291.83 L274.42 291.73 L274.75 291.63 L275.09 291.54 L275.42 291.45 L275.75 291.36 L276.09 291.28 L276.42 291.2 L276.75 291.12 L277.09 291.05 L277.42 290.98 L277.75 290.92 L278.09 290.86 L278.42 290.8 L278.75 290.75 L279.09 290.7 L279.42 290.66 L279.75 290.62 L280.09 290.58 L280.42 290.55 L280.75 290.52 L281.09 290.5 L281.42 290.48 L281.75 290.47 L282.08 290.45 L282.42 290.45 L282.75 290.45 L283.08 290.45 L283.42 290.45 L283.75 290.46 L284.08 290.48 L284.42 290.5 L284.75 290.52 L285.08 290.54 L285.42 290.57 L285.75 290.6 L286.08 290.64 L286.42 290.67 L286.75 290.72 L287.08 290.76 L287.42 290.81 L287.75 290.86 L288.08 290.92 L288.42 290.97 L288.75 291.03 L289.08 291.1 L289.42 291.16 L289.75 291.23 L290.08 291.3 L290.42 291.38 L290.75 291.46 L291.08 291.53 L291.42 291.62 L291.75 291.7 L292.08 291.79 L292.42 291.88 L292.75 291.97 L293.08 292.06 L293.42 292.15 L293.75 292.25 L294.08 292.35 L294.42 292.45 L294.75 292.55 L295.08 292.66 L295.42 292.76 L295.75 292.87 L296.08 292.98 L296.42 293.09 L296.75 293.2 L297.08 293.32 L297.42 293.43 L297.75 293.55 L298.08 293.66 L298.42 293.78 L298.75 293.9 L299.08 294.02 L299.42 294.14 L299.75 294.26 L300.08 294.38 L300.42 294.51 L300.75 294.63 L301.08 294.76 L301.42 294.88 L301.75 295.01 L302.08 295.13 L302.42 295.26 L302.75 295.39 L303.08 295.51 L303.41 295.64 L303.75 295.77 L304.08 295.89 L304.41 296.02 L304.75 296.15 L305.08 296.27 L305.41 296.4 L305.75 296.53 L306.08 296.65 L306.41 296.78 L306.75 296.9 L307.08 297.03 L307.41 297.15 L307.75 297.27 L308.08 297.39 L308.41 297.52 L308.75 297.64 L309.08 297.76 L309.41 297.88 L309.75 298 L310.08 298.11 L310.41 298.23 L310.75 298.35 L311.08 298.46 L311.41 298.58 L311.75 298.69 L312.08 298.8 L312.41 298.92 L312.75 299.03 L313.08 299.14 L313.41 299.25 L313.75 299.36 L314.08 299.46 L314.41 299.57 L314.75 299.67 L315.08 299.78 L315.41 299.88 L315.75 299.98 L316.08 300.09 L316.41 300.19 L316.75 300.28 L317.08 300.38 L317.41 300.48 L317.75 300.57 L318.08 300.67 L318.41 300.76 L318.75 300.85 L319.08 300.94 L319.41 301.03 L319.75 301.12 L320.08 301.21 L320.41 301.29 L320.75 301.38 L321.08 301.46 L321.41 301.54 L321.75 301.62 L322.08 301.7 L322.41 301.77 L322.75 301.85 L323.08 301.92 L323.41 301.99 L323.75 302.06 L324.08 302.13 L324.41 302.2 L324.75 302.27 L325.08 302.33 L325.41 302.39 L325.74 302.45 L326.08 302.51 L326.41 302.57 L326.74 302.63 L327.08 302.68 L327.41 302.73 L327.74 302.79 L328.08 302.83 L328.41 302.88 L328.74 302.93 L329.08 302.97 L329.41 303.01 L329.74 303.05 L330.08 303.09 L330.41 303.13 L330.74 303.16 L331.08 303.19 L331.41 303.22 L331.74 303.25 L332.08 303.28 L332.41 303.3 L332.74 303.32 L333.08 303.34 L333.41 303.36 L333.74 303.38 L334.08 303.39 L334.41 303.4 L334.74 303.41 L335.08 303.42 L335.41 303.42 L335.74 303.43 L336.08 303.43 L336.41 303.43 L336.74 303.43 L337.08 303.42 L337.41 303.41 L337.74 303.41 L338.08 303.4 L338.41 303.39 L338.74 303.37 L339.08 303.36 L339.41 303.34 L339.74 303.32 L340.08 303.3 L340.41 303.28 L340.74 303.26 L341.08 303.23 L341.41 303.21 L341.74 303.18 L342.08 303.15 L342.41 303.12 L342.74 303.09 L343.08 303.05 L343.41 303.02 L343.74 302.98 L344.08 302.95 L344.41 302.91 L344.74 302.87 L345.08 302.83 L345.41 302.79 L345.74 302.75 L346.08 302.7 L346.41 302.66 L346.74 302.61 L347.07 302.57 L347.41 302.52 L347.74 302.47 L348.07 302.42 L348.41 302.37 L348.74 302.32 L349.07 302.27 L349.41 302.22 L349.74 302.17 L350.07 302.11 L350.41 302.06 L350.74 302 L351.07 301.95 L351.41 301.89 L351.74 301.84 L352.07 301.78 L352.41 301.72 L352.74 301.67 L353.07 301.61 L353.41 301.55 L353.74 301.49 L354.07 301.43 L354.41 301.37 L354.74 301.32 L355.07 301.26 L355.41 301.2 L355.74 301.14 L356.07 301.08 L356.41 301.02 L356.74 300.96 L357.07 300.9 L357.41 300.84 L357.74 300.78 L358.07 300.72 L358.41 300.66 L358.74 300.6 L359.07 300.54 L359.41 300.48 L359.74 300.42 L360.07 300.37 L360.41 300.31 L360.74 300.25 L361.07 300.19 L361.41 300.14 L361.74 300.08 L362.07 300.03 L362.41 299.97 L362.74 299.91 L363.07 299.86 L363.41 299.81 L363.74 299.75 L364.07 299.7 L364.41 299.64 L364.74 299.59 L365.07 299.54 L365.41 299.49 L365.74 299.44 L366.07 299.38 L366.41 299.33 L366.74 299.28 L367.07 299.23 L367.41 299.18 L367.74 299.14 L368.07 299.09 L368.41 299.04 L368.74 298.99 L369.07 298.95 L369.4 298.9 L369.74 298.85 L370.07 298.81 L370.4 298.76 L370.74 298.72 L371.07 298.67 L371.4 298.63 L371.74 298.59 L372.07 298.55 L372.4 298.51 L372.74 298.46 L373.07 298.42 L373.4 298.38 L373.74 298.35 L374.07 298.31 L374.4 298.27 L374.74 298.23 L375.07 298.19 L375.4 298.16 L375.74 298.12 L376.07 298.09 L376.4 298.05 L376.74 298.02 L377.07 297.99 L377.4 297.95 L377.74 297.92 L378.07 297.89 L378.4 297.86 L378.74 297.83 L379.07 297.8 L379.4 297.78 L379.74 297.75 L380.07 297.72 L380.4 297.69 L380.74 297.67 L381.07 297.64 L381.4 297.62 L381.74 297.6 L382.07 297.57 L382.4 297.55 L382.74 297.53 L383.07 297.51 L383.4 297.49 L383.74 297.47 L384.07 297.46 L384.4 297.44 L384.74 297.42 L385.07 297.41 L385.4 297.39 L385.74 297.38 L386.07 297.36 L386.4 297.35 L386.74 297.34 L387.07 297.33 L387.4 297.32 L387.74 297.31 L388.07 297.3 L388.4 297.29 L388.74 297.28 L389.07 297.27 L389.4 297.26 L389.74 297.26 L390.07 297.25 L390.4 297.24 L390.73 297.24 L391.07 297.23 L391.4 297.23 L391.73 297.23 L392.07 297.22 L392.4 297.22 L392.73 297.22 L393.07 297.21 L393.4 297.21 L393.73 297.21 L394.07 297.21 L394.4 297.21 L394.73 297.21 L395.07 297.21 L395.4 297.21 L395.73 297.21 L396.07 297.21 L396.4 297.21 L396.73 297.21 L397.07 297.21 L397.4 297.21 L397.73 297.21 L398.07 297.21 L398.4 297.22 L398.73 297.22 L399.07 297.22 L399.4 297.22 L399.73 297.22 L400.07 297.23 L400.4 297.23 L400.73 297.23 L401.07 297.23 L401.4 297.24" fill="none" stroke="#0000ff" stroke-width="3.4" stroke-linejoin="round" stroke-linecap="butt"/>
<path d="M48.93 347.5 L137.08 347.5 L137.41 347.5 L137.75 347.48 L138.08 347.46 L138.41 347.42 L138.75 347.36 L139.08 347.27 L139.41 347.17 L139.75 347.04 L140.08 346.87 L140.41 346.68 L140.75 346.45 L141.08 346.18 L141.41 345.87 L141.75 345.52 L142.08 345.14 L142.41 344.72 L142.75 344.25 L143.08 343.75 L143.41 343.21 L143.75 342.64 L144.08 342.02 L144.41 341.36 L144.75 340.66 L145.08 339.93 L145.41 339.15 L145.75 338.33 L146.08 337.46 L146.41 336.54 L146.75 335.55 L147.08 334.48 L147.41 333.34 L147.75 332.11 L148.08 330.79 L148.41 329.36 L148.75 327.83 L149.08 326.18 L149.41 324.4 L149.75 322.49 L150.08 320.44 L150.41 318.25 L150.75 315.93 L151.08 313.51 L151.41 311 L151.75 308.42 L152.08 305.8 L152.41 303.15 L152.75 300.5 L153.08 297.86 L153.41 295.25 L153.75 292.69 L154.08 290.21 L154.41 287.82 L154.75 285.52 L155.08 283.32 L155.41 281.22 L155.75 279.22 L156.08 277.33 L156.41 275.54 L156.75 273.87 L157.08 272.3 L157.41 270.85 L157.75 269.52 L158.08 268.3 L158.41 267.2 L158.75 266.2 L159.08 265.29 L159.41 264.47 L159.75 263.74 L160.08 263.07 L160.41 262.47 L160.75 261.93 L161.08 261.44 L161.41 260.99 L161.75 260.58 L162.08 260.19 L162.41 259.82 L162.75 259.48 L163.08 259.17 L163.41 258.87 L163.75 258.61 L164.08 258.36 L164.41 258.14 L164.75 257.94 L165.08 257.77 L165.41 257.61 L165.75 257.49 L166.08 257.38 L166.41 257.3 L166.75 257.24 L167.08 257.2 L167.41 257.19 L167.75 257.2 L168.08 257.23 L168.41 257.28 L168.75 257.35 L169.08 257.45 L169.41 257.56 L169.75 257.7 L170.08 257.85 L170.41 258.02 L170.74 258.2 L171.08 258.41 L171.41 258.62 L171.74 258.85 L172.08 259.1 L172.41 259.35 L172.74 259.62 L173.08 259.9 L173.41 260.19 L173.74 260.49 L174.08 260.8 L174.41 261.12 L174.74 261.44 L175.08 261.77 L175.41 262.1 L175.74 262.44 L176.08 262.78 L176.41 263.13 L176.74 263.48 L177.08 263.83 L177.41 264.18 L177.74 264.55 L178.08 264.91 L178.41 265.28 L178.74 265.66 L179.08 266.04 L179.41 266.43 L179.74 266.83 L180.08 267.23 L180.41 267.64 L180.74 268.06 L181.08 268.49 L181.41 268.93 L181.74 269.38 L182.08 269.83 L182.41 270.3 L182.74 270.78 L183.08 271.27 L183.41 271.77 L183.74 272.28 L184.08 272.8 L184.41 273.34 L184.74 273.88 L185.08 274.44 L185.41 275.01 L185.74 275.59 L186.08 276.18 L186.41 276.78 L186.74 277.4 L187.08 278.02 L187.41 278.66 L187.74 279.31 L188.08 279.97 L188.41 280.64 L188.74 281.32 L189.08 282.01 L189.41 282.7 L189.74 283.4 L190.08 284.1 L190.41 284.81 L190.74 285.51 L191.08 286.21 L191.41 286.9 L191.74 287.59 L192.08 288.26 L192.41 288.93 L192.74 289.59 L193.08 290.22 L193.41 290.85 L193.74 291.45 L194.08 292.04 L194.41 292.61 L194.74 293.16 L195.08 293.7 L195.41 294.21 L195.74 294.72 L196.08 295.21 L196.41 295.69 L196.74 296.15 L197.08 296.6 L197.41 297.04 L197.74 297.47 L198.08 297.89 L198.41 298.3 L198.74 298.7 L199.08 299.09 L199.41 299.47 L199.74 299.85 L200.08 300.22 L200.41 300.58 L200.74 300.94 L201.08 301.29 L201.41 301.64 L201.74 301.98 L202.08 302.31 L202.41 302.64 L202.74 302.97 L203.08 303.29 L203.41 303.6 L203.74 303.91 L204.08 304.21 L204.41 304.5 L204.74 304.79 L205.08 305.08 L205.41 305.36 L205.74 305.63 L206.08 305.9 L206.41 306.16 L206.74 306.41 L207.08 306.66 L207.41 306.91 L207.74 307.14 L208.08 307.38 L208.41 307.6 L208.74 307.82 L209.08 308.04 L209.41 308.25 L209.74 308.45 L210.08 308.65 L210.41 308.84 L210.74 309.03 L211.08 309.21 L211.41 309.38 L211.74 309.55 L212.08 309.71 L212.41 309.87 L212.74 310.03 L213.08 310.18 L213.41 310.32 L213.74 310.46 L214.08 310.6 L214.41 310.73 L214.74 310.85 L215.08 310.97 L215.41 311.09 L215.74 311.2 L216.08 311.31 L216.41 311.42 L216.74 311.52 L217.08 311.62 L217.41 311.71 L217.74 311.8 L218.08 311.89 L218.41 311.97 L218.74 312.06 L219.08 312.13 L219.41 312.21 L219.74 312.28 L220.08 312.35 L220.41 312.41 L220.74 312.48 L221.08 312.54 L221.41 312.6 L221.74 312.65 L222.08 312.7 L222.41 312.75 L222.74 312.8 L223.08 312.85 L223.41 312.89 L223.74 312.93 L224.08 312.96 L224.41 312.99 L224.74 313.02 L225.08 313.05 L225.41 313.08 L225.74 313.1 L226.08 313.11 L226.41 313.13 L226.74 313.14 L227.08 313.15 L227.41 313.16 L227.74 313.16 L228.08 313.16 L228.41 313.15 L228.74 313.15 L229.08 313.14 L229.41 313.12 L229.74 313.11 L230.08 313.09 L230.41 313.06 L230.74 313.04 L231.08 313.01 L231.41 312.97 L231.74 312.94 L232.08 312.9 L232.41 312.85 L232.74 312.81 L233.08 312.76 L233.41 312.7 L233.74 312.65 L234.08 312.58 L234.41 312.52 L234.74 312.45 L235.08 312.38 L235.41 312.3 L235.74 312.22 L236.08 312.14 L236.41 312.06 L236.74 311.97 L237.07 311.87 L237.41 311.77 L237.74 311.67 L238.07 311.57 L238.41 311.46 L238.74 311.34 L239.07 311.23 L239.41 311.11 L239.74 310.98 L240.07 310.85 L240.41 310.72 L240.74 310.58 L241.07 310.44 L241.41 310.3 L241.74 310.15 L242.07 309.99 L242.41 309.84 L242.74 309.68 L243.07 309.51 L243.41 309.34 L243.74 309.17 L244.07 308.99 L244.41 308.81 L244.74 308.63 L245.07 308.44 L245.41 308.25 L245.74 308.06 L246.07 307.87 L246.41 307.67 L246.74 307.47 L247.07 307.27 L247.41 307.06 L247.74 306.85 L248.07 306.64 L248.41 306.43 L248.74 306.22 L249.07 306 L249.41 305.79 L249.74 305.57 L250.07 305.35 L250.41 305.13 L250.74 304.9 L251.07 304.68 L251.41 304.46 L251.74 304.23 L252.07 304 L252.41 303.78 L252.74 303.55 L253.07 303.32 L253.41 303.09 L253.74 302.87 L254.07 302.64 L254.41 302.41 L254.74 302.18 L255.07 301.96 L255.41 301.73 L255.74 301.5 L256.07 301.28 L256.41 301.05 L256.74 300.83 L257.07 300.61 L257.41 300.38 L257.74 300.16 L258.07 299.94 L258.41 299.73 L258.74 299.51 L259.07 299.3 L259.41 299.08 L259.74 298.87 L260.07 298.66 L260.41 298.45 L260.74 298.24 L261.07 298.04 L261.41 297.84 L261.74 297.63 L262.07 297.43 L262.41 297.24 L262.74 297.04 L263.07 296.85 L263.41 296.65 L263.74 296.46 L264.07 296.28 L264.41 296.09 L264.74 295.91 L265.07 295.73 L265.41 295.55 L265.74 295.37 L266.07 295.2 L266.41 295.02 L266.74 294.86 L267.07 294.69 L267.41 294.52 L267.74 294.36 L268.07 294.2 L268.41 294.05 L268.74 293.89 L269.07 293.74 L269.41 293.59 L269.74 293.45 L270.07 293.31 L270.41 293.17 L270.74 293.03 L271.07 292.9 L271.41 292.76 L271.74 292.64 L272.07 292.51 L272.41 292.39 L272.74 292.27 L273.07 292.16 L273.41 292.05 L273.74 291.94 L274.07 291.83 L274.41 291.73 L274.74 291.64 L275.07 291.54 L275.41 291.45 L275.74 291.36 L276.07 291.28 L276.41 291.2 L276.74 291.13 L277.07 291.05 L277.41 290.99 L277.74 290.92 L278.07 290.86 L278.41 290.8 L278.74 290.75 L279.07 290.7 L279.41 290.66 L279.74 290.62 L280.07 290.58 L280.41 290.55 L280.74 290.52 L281.07 290.5 L281.41 290.48 L281.74 290.47 L282.07 290.46 L282.41 290.45 L282.74 290.45 L283.07 290.45 L283.41 290.45 L283.74 290.46 L284.07 290.48 L284.41 290.49 L284.74 290.52 L285.07 290.54 L285.41 290.57 L285.74 290.6 L286.07 290.63 L286.41 290.67 L286.74 290.72 L287.07 290.76 L287.41 290.81 L287.74 290.86 L288.07 290.91 L288.41 290.97 L288.74 291.03 L289.07 291.1 L289.41 291.16 L289.74 291.23 L290.07 291.3 L290.41 291.38 L290.74 291.45 L291.07 291.53 L291.41 291.61 L291.74 291.7 L292.07 291.78 L292.41 291.87 L292.74 291.96 L293.07 292.06 L293.41 292.15 L293.74 292.25 L294.07 292.35 L294.41 292.45 L294.74 292.55 L295.07 292.65 L295.41 292.76 L295.74 292.87 L296.07 292.98 L296.41 293.09 L296.74 293.2 L297.07 293.31 L297.41 293.43 L297.74 293.54 L298.07 293.66 L298.41 293.78 L298.74 293.9 L299.07 294.02 L299.41 294.14 L299.74 294.26 L300.07 294.38 L300.41 294.5 L300.74 294.63 L301.07 294.75 L301.41 294.88 L301.74 295 L302.07 295.13 L302.4 295.26 L302.74 295.38 L303.07 295.51 L303.4 295.64 L303.74 295.76 L304.07 295.89 L304.4 296.02 L304.74 296.14 L305.07 296.27 L305.4 296.4 L305.74 296.52 L306.07 296.65 L306.4 296.77 L306.74 296.9 L307.07 297.02 L307.4 297.15 L307.74 297.27 L308.07 297.39 L308.4 297.51 L308.74 297.63 L309.07 297.75 L309.4 297.87 L309.74 297.99 L310.07 298.11 L310.4 298.23 L310.74 298.34 L311.07 298.46 L311.4 298.57 L311.74 298.69 L312.07 298.8 L312.4 298.91 L312.74 299.02 L313.07 299.13 L313.4 299.24 L313.74 299.35 L314.07 299.46 L314.4 299.57 L314.74 299.67 L315.07 299.78 L315.4 299.88 L315.74 299.98 L316.07 300.08 L316.4 300.18 L316.74 300.28 L317.07 300.38 L317.4 300.48 L317.74 300.57 L318.07 300.67 L318.4 300.76 L318.74 300.85 L319.07 300.94 L319.4 301.03 L319.74 301.12 L320.07 301.2 L320.4 301.29 L320.74 301.37 L321.07 301.46 L321.4 301.54 L321.74 301.62 L322.07 301.69 L322.4 301.77 L322.74 301.85 L323.07 301.92 L323.4 301.99 L323.74 302.06 L324.07 302.13 L324.4 302.2 L324.74 302.27 L325.07 302.33 L325.4 302.39 L325.74 302.45 L326.07 302.51 L326.4 302.57 L326.74 302.63 L327.07 302.68 L327.4 302.73 L327.74 302.78 L328.07 302.83 L328.4 302.88 L328.74 302.93 L329.07 302.97 L329.4 303.01 L329.74 303.05 L330.07 303.09 L330.4 303.12 L330.74 303.16 L331.07 303.19 L331.4 303.22 L331.74 303.25 L332.07 303.28 L332.4 303.3 L332.74 303.32 L333.07 303.34 L333.4 303.36 L333.74 303.38 L334.07 303.39 L334.4 303.4 L334.74 303.41 L335.07 303.42 L335.4 303.42 L335.74 303.43 L336.07 303.43 L336.4 303.43 L336.74 303.43 L337.07 303.42 L337.4 303.41 L337.74 303.41 L338.07 303.4 L338.4 303.39 L338.74 303.37 L339.07 303.36 L339.4 303.34 L339.74 303.32 L340.07 303.3 L340.4 303.28 L340.74 303.26 L341.07 303.23 L341.4 303.21 L341.74 303.18 L342.07 303.15 L342.4 303.12 L342.74 303.09 L343.07 303.06 L343.4 303.02 L343.74 302.99 L344.07 302.95 L344.4 302.91 L344.74 302.87 L345.07 302.83 L345.4 302.79 L345.74 302.75 L346.07 302.7 L346.4 302.66 L346.74 302.61 L347.07 302.57 L347.4 302.52 L347.74 302.47 L348.07 302.42 L348.4 302.37 L348.74 302.32 L349.07 302.27 L349.4 302.22 L349.74 302.17 L350.07 302.11 L350.4 302.06 L350.74 302.01 L351.07 301.95 L351.4 301.89 L351.74 301.84 L352.07 301.78 L352.4 301.72 L352.74 301.67 L353.07 301.61 L353.4 301.55 L353.74 301.49 L354.07 301.43 L354.4 301.38 L354.74 301.32 L355.07 301.26 L355.4 301.2 L355.74 301.14 L356.07 301.08 L356.4 301.02 L356.74 300.96 L357.07 300.9 L357.4 300.84 L357.74 300.78 L358.07 300.72 L358.4 300.66 L358.74 300.6 L359.07 300.54 L359.4 300.48 L359.74 300.43 L360.07 300.37 L360.4 300.31 L360.74 300.25 L361.07 300.2 L361.4 300.14 L361.74 300.08 L362.07 300.03 L362.4 299.97 L362.74 299.92 L363.07 299.86 L363.4 299.81 L363.74 299.75 L364.07 299.7 L364.4 299.64 L364.74 299.59 L365.07 299.54 L365.4 299.49 L365.74 299.44 L366.07 299.38 L366.4 299.33 L366.74 299.28 L367.07 299.23 L367.4 299.18 L367.74 299.14 L368.07 299.09 L368.4 299.04 L368.73 298.99 L369.07 298.95 L369.4 298.9 L369.73 298.85 L370.07 298.81 L370.4 298.76 L370.73 298.72 L371.07 298.68 L371.4 298.63 L371.73 298.59 L372.07 298.55 L372.4 298.51 L372.73 298.47 L373.07 298.42 L373.4 298.38 L373.73 298.35 L374.07 298.31 L374.4 298.27 L374.73 298.23 L375.07 298.19 L375.4 298.16 L375.73 298.12 L376.07 298.09 L376.4 298.05 L376.73 298.02 L377.07 297.99 L377.4 297.96 L377.73 297.92 L378.07 297.89 L378.4 297.86 L378.73 297.83 L379.07 297.8 L379.4 297.78 L379.73 297.75 L380.07 297.72 L380.4 297.69 L380.73 297.67 L381.07 297.64 L381.4 297.62 L381.73 297.6 L382.07 297.58 L382.4 297.55 L382.73 297.53 L383.07 297.51 L383.4 297.49 L383.73 297.47 L384.07 297.46 L384.4 297.44 L384.73 297.42 L385.07 297.41 L385.4 297.39 L385.73 297.38 L386.07 297.36 L386.4 297.35 L386.73 297.34 L387.07 297.33 L387.4 297.32 L387.73 297.31 L388.07 297.3 L388.4 297.29 L388.73 297.28 L389.07 297.27 L389.4 297.26 L389.73 297.26 L390.07 297.25 L390.4 297.24 L390.73 297.24 L391.07 297.23 L391.4 297.23 L391.73 297.23 L392.07 297.22 L392.4 297.22 L392.73 297.22 L393.07 297.21 L393.4 297.21 L393.73 297.21 L394.07 297.21 L394.4 297.21 L394.73 297.21 L395.07 297.21 L395.4 297.21 L395.73 297.21 L396.07 297.21 L396.4 297.21 L396.73 297.21 L397.07 297.21 L397.4 297.21 L397.73 297.21 L398.07 297.21 L398.4 297.22 L398.73 297.22 L399.07 297.22 L399.4 297.22 L399.73 297.22 L400.07 297.23 L400.4 297.23 L400.73 297.23 L401.07 297.23 L401.4 297.24" fill="none" stroke="#008000" stroke-width="3.4" stroke-linejoin="round" stroke-linecap="butt"/>
<line x1="325.3" y1="218.7" x2="361.7" y2="218.7" stroke="#ff0000" stroke-width="3.4"/>
<text x="366.5" y="224" font-size="16">SN</text>
<line x1="325.3" y1="238.5" x2="361.7" y2="238.5" stroke="#0000ff" stroke-width="3.4"/>
<text x="366.5" y="243.8" font-size="16">NR<tspan font-size="11.5" dy="4.2">4</tspan></text>
<line x1="325.3" y1="261.7" x2="361.7" y2="261.7" stroke="#008000" stroke-width="3.4"/>
<text x="366.5" y="267.9" font-size="16">TP<tspan font-size="11.5" dy="4.2">4</tspan></text>
<path d="M47.2 548.6 L95.31 548.6 L95.65 548.57 L95.98 548.47 L96.31 548.32 L96.64 548.14 L96.98 547.92 L97.31 547.69 L97.64 547.44 L97.98 547.17 L98.31 546.83 L98.64 546.39 L98.98 545.83 L99.31 545.1 L99.64 544.18 L99.98 543.07 L100.31 541.78 L100.64 540.32 L100.97 538.71 L101.31 536.98 L101.64 535.13 L101.97 533.18 L102.31 531.11 L102.64 528.88 L102.97 526.43 L103.31 523.71 L103.64 520.66 L103.97 517.25 L104.3 513.41 L104.64 509.11 L104.97 504.39 L105.3 499.38 L105.64 494.18 L105.97 488.91 L106.3 483.68 L106.64 478.6 L106.97 473.78 L107.3 469.23 L107.64 465.01 L107.97 461.15 L108.3 457.67 L108.63 454.6 L108.97 451.91 L109.3 449.57 L109.63 447.53 L109.97 445.76 L110.3 444.23 L110.63 442.88 L110.97 441.7 L111.3 440.67 L111.63 439.81 L111.97 439.1 L112.3 438.55 L112.63 438.17 L112.96 437.96 L113.3 437.91 L113.63 438.04 L113.96 438.35 L114.3 438.82 L114.63 439.45 L114.96 440.24 L115.3 441.17 L115.63 442.25 L115.96 443.47 L116.3 444.82 L116.63 446.29 L116.96 447.89 L117.29 449.61 L117.63 451.45 L117.96 453.41 L118.29 455.48 L118.63 457.67 L118.96 459.96 L119.29 462.34 L119.63 464.79 L119.96 467.28 L120.29 469.8 L120.63 472.31 L120.96 474.81 L121.29 477.25 L121.62 479.63 L121.96 481.93 L122.29 484.14 L122.62 486.27 L122.96 488.31 L123.29 490.26 L123.62 492.13 L123.96 493.92 L124.29 495.62 L124.62 497.23 L124.96 498.76 L125.29 500.2 L125.62 501.56 L125.95 502.84 L126.29 504.03 L126.62 505.15 L126.95 506.2 L127.29 507.18 L127.62 508.1 L127.95 508.96 L128.29 509.77 L128.62 510.53 L128.95 511.24 L129.28 511.91 L129.62 512.55 L129.95 513.15 L130.28 513.73 L130.62 514.28 L130.95 514.81 L131.28 515.33 L131.62 515.83 L131.95 516.31 L132.28 516.78 L132.62 517.23 L132.95 517.66 L133.28 518.07 L133.61 518.46 L133.95 518.83 L134.28 519.17 L134.61 519.49 L134.95 519.78 L135.28 520.04 L135.61 520.27 L135.95 520.48 L136.28 520.65 L136.61 520.79 L136.95 520.9 L137.28 520.97 L137.61 521.01 L137.94 521.01 L138.28 520.97 L138.61 520.89 L138.94 520.77 L139.28 520.62 L139.61 520.43 L139.94 520.21 L140.28 519.96 L140.61 519.68 L140.94 519.37 L141.28 519.04 L141.61 518.68 L141.94 518.3 L142.27 517.9 L142.61 517.48 L142.94 517.05 L143.27 516.6 L143.61 516.14 L143.94 515.66 L144.27 515.18 L144.61 514.69 L144.94 514.2 L145.27 513.7 L145.61 513.2 L145.94 512.7 L146.27 512.2 L146.6 511.71 L146.94 511.22 L147.27 510.73 L147.6 510.25 L147.94 509.77 L148.27 509.3 L148.6 508.84 L148.94 508.38 L149.27 507.92 L149.6 507.47 L149.94 507.02 L150.27 506.58 L150.6 506.15 L150.93 505.72 L151.27 505.29 L151.6 504.88 L151.93 504.46 L152.27 504.06 L152.6 503.66 L152.93 503.26 L153.27 502.88 L153.6 502.5 L153.93 502.12 L154.26 501.75 L154.6 501.39 L154.93 501.03 L155.26 500.69 L155.6 500.34 L155.93 500.01 L156.26 499.68 L156.6 499.36 L156.93 499.05 L157.26 498.74 L157.6 498.44 L157.93 498.15 L158.26 497.87 L158.59 497.6 L158.93 497.34 L159.26 497.08 L159.59 496.84 L159.93 496.61 L160.26 496.38 L160.59 496.17 L160.93 495.96 L161.26 495.77 L161.59 495.59 L161.93 495.42 L162.26 495.26 L162.59 495.12 L162.92 494.99 L163.26 494.87 L163.59 494.76 L163.92 494.67 L164.26 494.59 L164.59 494.52 L164.92 494.47 L165.26 494.43 L165.59 494.41 L165.92 494.4 L166.26 494.41 L166.59 494.43 L166.92 494.47 L167.25 494.53 L167.59 494.6 L167.92 494.68 L168.25 494.78 L168.59 494.9 L168.92 495.03 L169.25 495.17 L169.59 495.33 L169.92 495.49 L170.25 495.67 L170.59 495.86 L170.92 496.06 L171.25 496.27 L171.58 496.49 L171.92 496.72 L172.25 496.96 L172.58 497.2 L172.92 497.45 L173.25 497.71 L173.58 497.98 L173.92 498.25 L174.25 498.52 L174.58 498.8 L174.91 499.08 L175.25 499.37 L175.58 499.66 L175.91 499.95 L176.25 500.25 L176.58 500.54 L176.91 500.84 L177.25 501.13 L177.58 501.43 L177.91 501.73 L178.25 502.02 L178.58 502.31 L178.91 502.6 L179.24 502.89 L179.58 503.18 L179.91 503.46 L180.24 503.75 L180.58 504.02 L180.91 504.3 L181.24 504.57 L181.58 504.83 L181.91 505.09 L182.24 505.35 L182.58 505.6 L182.91 505.84 L183.24 506.08 L183.57 506.31 L183.91 506.53 L184.24 506.75 L184.57 506.95 L184.91 507.15 L185.24 507.35 L185.57 507.53 L185.91 507.7 L186.24 507.87 L186.57 508.02 L186.91 508.17 L187.24 508.31 L187.57 508.43 L187.9 508.55 L188.24 508.66 L188.57 508.76 L188.9 508.85 L189.24 508.93 L189.57 509.01 L189.9 509.07 L190.24 509.13 L190.57 509.18 L190.9 509.21 L191.24 509.25 L191.57 509.27 L191.9 509.28 L192.23 509.29 L192.57 509.28 L192.9 509.27 L193.23 509.26 L193.57 509.23 L193.9 509.19 L194.23 509.15 L194.57 509.1 L194.9 509.05 L195.23 508.98 L195.57 508.91 L195.9 508.83 L196.23 508.75 L196.56 508.66 L196.9 508.56 L197.23 508.46 L197.56 508.35 L197.9 508.24 L198.23 508.12 L198.56 508 L198.9 507.87 L199.23 507.74 L199.56 507.61 L199.89 507.47 L200.23 507.33 L200.56 507.18 L200.89 507.04 L201.23 506.89 L201.56 506.74 L201.89 506.58 L202.23 506.43 L202.56 506.27 L202.89 506.11 L203.23 505.95 L203.56 505.79 L203.89 505.63 L204.22 505.47 L204.56 505.31 L204.89 505.15 L205.22 504.99 L205.56 504.83 L205.89 504.67 L206.22 504.52 L206.56 504.36 L206.89 504.21 L207.22 504.06 L207.56 503.91 L207.89 503.77 L208.22 503.62 L208.55 503.48 L208.89 503.34 L209.22 503.2 L209.55 503.07 L209.89 502.94 L210.22 502.81 L210.55 502.69 L210.89 502.57 L211.22 502.45 L211.55 502.34 L211.89 502.23 L212.22 502.12 L212.55 502.02 L212.88 501.92 L213.22 501.82 L213.55 501.73 L213.88 501.64 L214.22 501.56 L214.55 501.48 L214.88 501.41 L215.22 501.34 L215.55 501.28 L215.88 501.22 L216.22 501.17 L216.55 501.12 L216.88 501.08 L217.21 501.04 L217.55 501.01 L217.88 500.98 L218.21 500.96 L218.55 500.95 L218.88 500.94 L219.21 500.93 L219.55 500.94 L219.88 500.95 L220.21 500.96 L220.55 500.99 L220.88 501.02 L221.21 501.05 L221.54 501.09 L221.88 501.14 L222.21 501.19 L222.54 501.25 L222.88 501.32 L223.21 501.38 L223.54 501.46 L223.88 501.53 L224.21 501.62 L224.54 501.7 L224.87 501.79 L225.21 501.88 L225.54 501.97 L225.87 502.07 L226.21 502.17 L226.54 502.27 L226.87 502.37 L227.21 502.48 L227.54 502.59 L227.87 502.69 L228.21 502.8 L228.54 502.91 L228.87 503.02 L229.2 503.13 L229.54 503.24 L229.87 503.35 L230.2 503.46 L230.54 503.57 L230.87 503.67 L231.2 503.78 L231.54 503.88 L231.87 503.98 L232.2 504.08 L232.54 504.18 L232.87 504.27 L233.2 504.36 L233.53 504.45 L233.87 504.53 L234.2 504.61 L234.53 504.69 L234.87 504.77 L235.2 504.84 L235.53 504.91 L235.87 504.97 L236.2 505.04 L236.53 505.1 L236.87 505.16 L237.2 505.21 L237.53 505.26 L237.86 505.31 L238.2 505.36 L238.53 505.41 L238.86 505.45 L239.2 505.49 L239.53 505.52 L239.86 505.56 L240.2 505.59 L240.53 505.62 L240.86 505.65 L241.2 505.68 L241.53 505.7 L241.86 505.72 L242.19 505.74 L242.53 505.76 L242.86 505.77 L243.19 505.79 L243.53 505.8 L243.86 505.81 L244.19 505.81 L244.53 505.82 L244.86 505.82 L245.19 505.83 L245.53 505.83 L245.86 505.83 L246.19 505.83 L246.52 505.82 L246.86 505.82 L247.19 505.81 L247.52 505.8 L247.86 505.79 L248.19 505.78 L248.52 505.77 L248.86 505.76 L249.19 505.74 L249.52 505.73 L249.85 505.71 L250.19 505.69 L250.52 505.67 L250.85 505.65 L251.19 505.63 L251.52 505.61 L251.85 505.59 L252.19 505.57 L252.52 505.54 L252.85 505.52 L253.19 505.49 L253.52 505.47 L253.85 505.44 L254.18 505.41 L254.52 505.38 L254.85 505.35 L255.18 505.32 L255.52 505.29 L255.85 505.26 L256.18 505.23 L256.52 505.2 L256.85 505.17 L257.18 505.14 L257.52 505.11 L257.85 505.08 L258.18 505.04 L258.51 505.01 L258.85 504.98 L259.18 504.95 L259.51 504.91 L259.85 504.88 L260.18 504.85 L260.51 504.81 L260.85 504.78 L261.18 504.75 L261.51 504.72 L261.85 504.69 L262.18 504.65 L262.51 504.62 L262.84 504.59 L263.18 504.56 L263.51 504.53 L263.84 504.5 L264.18 504.47 L264.51 504.44 L264.84 504.41 L265.18 504.38 L265.51 504.36 L265.84 504.33 L266.18 504.3 L266.51 504.28 L266.84 504.25 L267.17 504.23 L267.51 504.21 L267.84 504.18 L268.17 504.16 L268.51 504.14 L268.84 504.12 L269.17 504.1 L269.51 504.08 L269.84 504.06 L270.17 504.05 L270.5 504.03 L270.84 504.01 L271.17 504 L271.5 503.98 L271.84 503.97 L272.17 503.95 L272.5 503.94 L272.84 503.93 L273.17 503.91 L273.5 503.9 L273.84 503.89 L274.17 503.88 L274.5 503.87 L274.83 503.86 L275.17 503.86 L275.5 503.85 L275.83 503.84 L276.17 503.84 L276.5 503.83 L276.83 503.83 L277.17 503.82 L277.5 503.82 L277.83 503.82 L278.17 503.81 L278.5 503.81 L278.83 503.81 L279.16 503.81 L279.5 503.81 L279.83 503.81 L280.16 503.82 L280.5 503.82 L280.83 503.82 L281.16 503.82 L281.5 503.83 L281.83 503.83 L282.16 503.84 L282.5 503.85 L282.83 503.85 L283.16 503.86 L283.49 503.87 L283.83 503.88 L284.16 503.89 L284.49 503.9 L284.83 503.91 L285.16 503.92 L285.49 503.94 L285.83 503.95 L286.16 503.96 L286.49 503.98 L286.83 503.99 L287.16 504.01 L287.49 504.02 L287.82 504.04 L288.16 504.05 L288.49 504.07 L288.82 504.09 L289.16 504.1 L289.49 504.12 L289.82 504.14 L290.16 504.16 L290.49 504.18 L290.82 504.2 L291.16 504.21 L291.49 504.23 L291.82 504.25 L292.15 504.27 L292.49 504.29 L292.82 504.31 L293.15 504.34 L293.49 504.36 L293.82 504.38 L294.15 504.4 L294.49 504.42 L294.82 504.44 L295.15 504.46 L295.48 504.48 L295.82 504.5 L296.15 504.53 L296.48 504.55 L296.82 504.57 L297.15 504.59 L297.48 504.61 L297.82 504.63 L298.15 504.65 L298.48 504.67 L298.82 504.69 L299.15 504.71 L299.48 504.74 L299.81 504.76 L300.15 504.78 L300.48 504.8 L300.81 504.82 L301.15 504.84 L301.48 504.85 L301.81 504.87 L302.15 504.89 L302.48 504.91 L302.81 504.93 L303.15 504.95 L303.48 504.96 L303.81 504.98 L304.14 505 L304.48 505.01 L304.81 505.03 L305.14 505.05 L305.48 505.06 L305.81 505.08 L306.14 505.09 L306.48 505.11 L306.81 505.12 L307.14 505.13 L307.48 505.15 L307.81 505.16 L308.14 505.17 L308.47 505.19 L308.81 505.2 L309.14 505.21 L309.47 505.22 L309.81 505.23 L310.14 505.24 L310.47 505.25 L310.81 505.26 L311.14 505.27 L311.47 505.27 L311.81 505.28 L312.14 505.29 L312.47 505.29 L312.8 505.3 L313.14 505.31 L313.47 505.31 L313.8 505.31 L314.14 505.32 L314.47 505.32 L314.8 505.32 L315.14 505.33 L315.47 505.33 L315.8 505.33 L316.14 505.33 L316.47 505.33 L316.8 505.33 L317.13 505.33 L317.47 505.32 L317.8 505.32 L318.13 505.32 L318.47 505.31 L318.8 505.31 L319.13 505.3 L319.47 505.3 L319.8 505.29 L320.13 505.28 L320.46 505.28 L320.8 505.27 L321.13 505.26 L321.46 505.25 L321.8 505.24 L322.13 505.23 L322.46 505.22 L322.8 505.21 L323.13 505.19 L323.46 505.18 L323.8 505.17 L324.13 505.16 L324.46 505.14 L324.79 505.13 L325.13 505.11 L325.46 505.1 L325.79 505.09 L326.13 505.07 L326.46 505.05 L326.79 505.04 L327.13 505.02 L327.46 505.01 L327.79 504.99 L328.13 504.97 L328.46 504.96 L328.79 504.94 L329.12 504.92 L329.46 504.91 L329.79 504.89 L330.12 504.87 L330.46 504.85 L330.79 504.84 L331.12 504.82 L331.46 504.8 L331.79 504.79 L332.12 504.77 L332.46 504.75 L332.79 504.73 L333.12 504.72 L333.45 504.7 L333.79 504.68 L334.12 504.67 L334.45 504.65 L334.79 504.63 L335.12 504.62 L335.45 504.6 L335.79 504.59 L336.12 504.57 L336.45 504.56 L336.79 504.54 L337.12 504.53 L337.45 504.51 L337.78 504.5 L338.12 504.48 L338.45 504.47 L338.78 504.46 L339.12 504.44 L339.45 504.43 L339.78 504.42 L340.12 504.41 L340.45 504.4 L340.78 504.39 L341.12 504.38 L341.45 504.37 L341.78 504.36 L342.11 504.35 L342.45 504.35 L342.78 504.34 L343.11 504.33 L343.45 504.33 L343.78 504.32 L344.11 504.32 L344.45 504.31 L344.78 504.31 L345.11 504.31 L345.44 504.3 L345.78 504.3 L346.11 504.3 L346.44 504.3 L346.78 504.3 L347.11 504.3 L347.44 504.3 L347.78 504.3 L348.11 504.3 L348.44 504.3 L348.78 504.31 L349.11 504.31 L349.44 504.31 L349.77 504.31 L350.11 504.32 L350.44 504.32 L350.77 504.33 L351.11 504.33 L351.44 504.34 L351.77 504.34 L352.11 504.35 L352.44 504.35 L352.77 504.36 L353.11 504.36 L353.44 504.37 L353.77 504.38 L354.1 504.39 L354.44 504.39 L354.77 504.4 L355.1 504.41 L355.44 504.42 L355.77 504.42 L356.1 504.43 L356.44 504.44 L356.77 504.45 L357.1 504.46 L357.44 504.47 L357.77 504.48 L358.1 504.49 L358.43 504.49 L358.77 504.5 L359.1 504.51 L359.43 504.52 L359.77 504.53 L360.1 504.54 L360.43 504.55 L360.77 504.56 L361.1 504.57 L361.43 504.58 L361.77 504.59 L362.1 504.6 L362.43 504.61 L362.76 504.62 L363.1 504.63 L363.43 504.64 L363.76 504.65 L364.1 504.66 L364.43 504.67 L364.76 504.68 L365.1 504.68 L365.43 504.69 L365.76 504.7 L366.09 504.71 L366.43 504.72 L366.76 504.73 L367.09 504.74 L367.43 504.74 L367.76 504.75 L368.09 504.76 L368.43 504.77 L368.76 504.77 L369.09 504.78 L369.43 504.79 L369.76 504.79 L370.09 504.8 L370.42 504.81 L370.76 504.81 L371.09 504.82 L371.42 504.82 L371.76 504.83 L372.09 504.83 L372.42 504.84 L372.76 504.84 L373.09 504.84 L373.42 504.85 L373.76 504.85 L374.09 504.85 L374.42 504.85 L374.75 504.86 L375.09 504.86 L375.42 504.86 L375.75 504.86 L376.09 504.86 L376.42 504.86 L376.75 504.86 L377.09 504.86 L377.42 504.86 L377.75 504.86 L378.09 504.86 L378.42 504.86 L378.75 504.85 L379.08 504.85 L379.42 504.85 L379.75 504.85 L380.08 504.85 L380.42 504.84 L380.75 504.84 L381.08 504.84 L381.42 504.83 L381.75 504.83 L382.08 504.83 L382.42 504.82 L382.75 504.82 L383.08 504.81 L383.41 504.81 L383.75 504.8 L384.08 504.8 L384.41 504.79 L384.75 504.79 L385.08 504.78 L385.41 504.78 L385.75 504.77 L386.08 504.76 L386.41 504.76 L386.75 504.75 L387.08 504.74 L387.41 504.74 L387.74 504.73 L388.08 504.72 L388.41 504.71 L388.74 504.71 L389.08 504.7 L389.41 504.69 L389.74 504.68 L390.08 504.68 L390.41 504.67 L390.74 504.66 L391.07 504.65 L391.41 504.64 L391.74 504.63 L392.07 504.62 L392.41 504.62 L392.74 504.61 L393.07 504.6 L393.41 504.59 L393.74 504.58 L394.07 504.57 L394.41 504.56 L394.74 504.55 L395.07 504.54 L395.4 504.53 L395.74 504.52 L396.07 504.51 L396.4 504.5 L396.74 504.49 L397.07 504.48 L397.4 504.47 L397.74 504.46 L398.07 504.45 L398.4 504.44 L398.74 504.43 L399.07 504.42 L399.4 504.41 L399.73 504.4 L400.07 504.39 L400.4 504.38 L400.73 504.37 L401.07 504.36 L401.4 504.35" fill="none" stroke="#ff0000" stroke-width="3.4" stroke-linejoin="round" stroke-linecap="butt"/>
<path d="M47.2 548.6 L128.67 548.6 L129 548.59 L129.33 548.56 L129.67 548.5 L130 548.43 L130.33 548.35 L130.66 548.24 L131 548.13 L131.33 548.01 L131.66 547.87 L132 547.73 L132.33 547.57 L132.66 547.41 L133 547.25 L133.33 547.08 L133.66 546.9 L133.99 546.72 L134.33 546.53 L134.66 546.34 L134.99 546.15 L135.33 545.96 L135.66 545.77 L135.99 545.57 L136.33 545.38 L136.66 545.19 L136.99 545 L137.32 544.81 L137.66 544.62 L137.99 544.43 L138.32 544.24 L138.66 544.05 L138.99 543.86 L139.32 543.67 L139.66 543.48 L139.99 543.29 L140.32 543.1 L140.65 542.91 L140.99 542.72 L141.32 542.53 L141.65 542.34 L141.99 542.16 L142.32 541.97 L142.65 541.78 L142.99 541.59 L143.32 541.4 L143.65 541.21 L143.98 541.02 L144.32 540.83 L144.65 540.64 L144.98 540.45 L145.32 540.26 L145.65 540.06 L145.98 539.87 L146.32 539.68 L146.65 539.49 L146.98 539.3 L147.31 539.11 L147.65 538.91 L147.98 538.72 L148.31 538.53 L148.65 538.34 L148.98 538.15 L149.31 537.96 L149.65 537.77 L149.98 537.58 L150.31 537.39 L150.64 537.2 L150.98 537.01 L151.31 536.82 L151.64 536.63 L151.98 536.44 L152.31 536.25 L152.64 536.07 L152.98 535.88 L153.31 535.7 L153.64 535.51 L153.97 535.33 L154.31 535.15 L154.64 534.96 L154.97 534.78 L155.31 534.6 L155.64 534.42 L155.97 534.24 L156.31 534.06 L156.64 533.88 L156.97 533.7 L157.3 533.52 L157.64 533.34 L157.97 533.16 L158.3 532.98 L158.64 532.8 L158.97 532.62 L159.3 532.44 L159.64 532.26 L159.97 532.08 L160.3 531.9 L160.63 531.72 L160.97 531.54 L161.3 531.36 L161.63 531.18 L161.97 530.99 L162.3 530.81 L162.63 530.63 L162.97 530.44 L163.3 530.26 L163.63 530.07 L163.96 529.88 L164.3 529.69 L164.63 529.51 L164.96 529.31 L165.3 529.12 L165.63 528.93 L165.96 528.74 L166.3 528.54 L166.63 528.35 L166.96 528.15 L167.29 527.95 L167.63 527.75 L167.96 527.55 L168.29 527.34 L168.63 527.14 L168.96 526.93 L169.29 526.72 L169.63 526.51 L169.96 526.3 L170.29 526.09 L170.63 525.87 L170.96 525.65 L171.29 525.43 L171.62 525.21 L171.96 524.98 L172.29 524.75 L172.62 524.5 L172.96 524.25 L173.29 523.98 L173.62 523.7 L173.96 523.39 L174.29 523.07 L174.62 522.73 L174.95 522.36 L175.29 521.97 L175.62 521.55 L175.95 521.1 L176.29 520.62 L176.62 520.1 L176.95 519.57 L177.29 519 L177.62 518.42 L177.95 517.81 L178.28 517.19 L178.62 516.55 L178.95 515.9 L179.28 515.24 L179.62 514.57 L179.95 513.89 L180.28 513.21 L180.62 512.52 L180.95 511.84 L181.28 511.16 L181.61 510.49 L181.95 509.82 L182.28 509.15 L182.61 508.5 L182.95 507.85 L183.28 507.22 L183.61 506.6 L183.95 505.99 L184.28 505.4 L184.61 504.83 L184.94 504.27 L185.28 503.73 L185.61 503.22 L185.94 502.73 L186.28 502.27 L186.61 501.83 L186.94 501.41 L187.28 501.03 L187.61 500.66 L187.94 500.32 L188.27 500.01 L188.61 499.71 L188.94 499.43 L189.27 499.17 L189.61 498.92 L189.94 498.69 L190.27 498.48 L190.61 498.27 L190.94 498.08 L191.27 497.9 L191.6 497.73 L191.94 497.56 L192.27 497.4 L192.6 497.25 L192.94 497.11 L193.27 496.97 L193.6 496.84 L193.94 496.72 L194.27 496.61 L194.6 496.51 L194.93 496.42 L195.27 496.34 L195.6 496.27 L195.93 496.21 L196.27 496.16 L196.6 496.13 L196.93 496.11 L197.27 496.1 L197.6 496.11 L197.93 496.13 L198.26 496.16 L198.6 496.21 L198.93 496.28 L199.26 496.36 L199.6 496.45 L199.93 496.55 L200.26 496.67 L200.6 496.8 L200.93 496.94 L201.26 497.09 L201.59 497.25 L201.93 497.43 L202.26 497.61 L202.59 497.79 L202.93 497.99 L203.26 498.19 L203.59 498.4 L203.93 498.62 L204.26 498.84 L204.59 499.07 L204.92 499.3 L205.26 499.53 L205.59 499.77 L205.92 500.01 L206.26 500.26 L206.59 500.5 L206.92 500.75 L207.26 500.99 L207.59 501.24 L207.92 501.49 L208.26 501.73 L208.59 501.98 L208.92 502.23 L209.25 502.48 L209.59 502.72 L209.92 502.97 L210.25 503.22 L210.59 503.46 L210.92 503.71 L211.25 503.95 L211.59 504.19 L211.92 504.43 L212.25 504.67 L212.58 504.91 L212.92 505.15 L213.25 505.38 L213.58 505.61 L213.92 505.84 L214.25 506.07 L214.58 506.29 L214.92 506.51 L215.25 506.73 L215.58 506.95 L215.91 507.16 L216.25 507.37 L216.58 507.57 L216.91 507.77 L217.25 507.97 L217.58 508.16 L217.91 508.35 L218.25 508.53 L218.58 508.7 L218.91 508.87 L219.24 509.04 L219.58 509.2 L219.91 509.35 L220.24 509.49 L220.58 509.63 L220.91 509.76 L221.24 509.88 L221.58 509.99 L221.91 510.1 L222.24 510.19 L222.57 510.28 L222.91 510.36 L223.24 510.42 L223.57 510.48 L223.91 510.53 L224.24 510.56 L224.57 510.59 L224.91 510.6 L225.24 510.61 L225.57 510.6 L225.9 510.58 L226.24 510.54 L226.57 510.5 L226.9 510.45 L227.24 510.38 L227.57 510.31 L227.9 510.22 L228.24 510.13 L228.57 510.03 L228.9 509.92 L229.23 509.8 L229.57 509.67 L229.9 509.54 L230.23 509.4 L230.57 509.26 L230.9 509.1 L231.23 508.95 L231.57 508.78 L231.9 508.62 L232.23 508.45 L232.56 508.27 L232.9 508.09 L233.23 507.91 L233.56 507.73 L233.9 507.54 L234.23 507.35 L234.56 507.16 L234.9 506.97 L235.23 506.78 L235.56 506.59 L235.89 506.39 L236.23 506.2 L236.56 506.01 L236.89 505.82 L237.23 505.63 L237.56 505.45 L237.89 505.26 L238.23 505.08 L238.56 504.9 L238.89 504.72 L239.22 504.54 L239.56 504.36 L239.89 504.19 L240.22 504.02 L240.56 503.85 L240.89 503.69 L241.22 503.53 L241.56 503.37 L241.89 503.22 L242.22 503.06 L242.55 502.92 L242.89 502.78 L243.22 502.64 L243.55 502.5 L243.89 502.37 L244.22 502.25 L244.55 502.13 L244.89 502.01 L245.22 501.9 L245.55 501.8 L245.89 501.7 L246.22 501.6 L246.55 501.52 L246.88 501.43 L247.22 501.36 L247.55 501.29 L247.88 501.23 L248.22 501.17 L248.55 501.12 L248.88 501.08 L249.22 501.04 L249.55 501.02 L249.88 501 L250.21 500.98 L250.55 500.98 L250.88 500.98 L251.21 500.99 L251.55 501.01 L251.88 501.03 L252.21 501.06 L252.55 501.1 L252.88 501.14 L253.21 501.19 L253.54 501.24 L253.88 501.3 L254.21 501.37 L254.54 501.44 L254.88 501.51 L255.21 501.59 L255.54 501.67 L255.88 501.76 L256.21 501.84 L256.54 501.94 L256.87 502.03 L257.21 502.13 L257.54 502.23 L257.87 502.33 L258.21 502.43 L258.54 502.54 L258.87 502.64 L259.21 502.75 L259.54 502.86 L259.87 502.97 L260.2 503.08 L260.54 503.19 L260.87 503.3 L261.2 503.4 L261.54 503.51 L261.87 503.62 L262.2 503.72 L262.54 503.83 L262.87 503.93 L263.2 504.03 L263.53 504.12 L263.87 504.22 L264.2 504.31 L264.53 504.4 L264.87 504.49 L265.2 504.58 L265.53 504.66 L265.87 504.75 L266.2 504.83 L266.53 504.91 L266.86 504.98 L267.2 505.06 L267.53 505.13 L267.86 505.2 L268.2 505.27 L268.53 505.34 L268.86 505.4 L269.2 505.46 L269.53 505.52 L269.86 505.58 L270.19 505.63 L270.53 505.69 L270.86 505.74 L271.19 505.79 L271.53 505.83 L271.86 505.88 L272.19 505.92 L272.53 505.96 L272.86 506 L273.19 506.03 L273.52 506.06 L273.86 506.09 L274.19 506.12 L274.52 506.15 L274.86 506.17 L275.19 506.19 L275.52 506.21 L275.86 506.23 L276.19 506.24 L276.52 506.25 L276.85 506.26 L277.19 506.27 L277.52 506.27 L277.85 506.28 L278.19 506.27 L278.52 506.27 L278.85 506.27 L279.19 506.26 L279.52 506.25 L279.85 506.24 L280.18 506.23 L280.52 506.21 L280.85 506.19 L281.18 506.18 L281.52 506.16 L281.85 506.13 L282.18 506.11 L282.52 506.08 L282.85 506.06 L283.18 506.03 L283.51 506 L283.85 505.97 L284.18 505.93 L284.51 505.9 L284.85 505.86 L285.18 505.83 L285.51 505.79 L285.85 505.75 L286.18 505.71 L286.51 505.67 L286.85 505.63 L287.18 505.59 L287.51 505.54 L287.84 505.5 L288.18 505.46 L288.51 505.41 L288.84 505.36 L289.18 505.32 L289.51 505.27 L289.84 505.23 L290.18 505.18 L290.51 505.13 L290.84 505.08 L291.17 505.03 L291.51 504.99 L291.84 504.94 L292.17 504.89 L292.51 504.84 L292.84 504.79 L293.17 504.74 L293.51 504.7 L293.84 504.65 L294.17 504.6 L294.5 504.55 L294.84 504.5 L295.17 504.46 L295.5 504.41 L295.84 504.36 L296.17 504.32 L296.5 504.27 L296.84 504.23 L297.17 504.18 L297.5 504.14 L297.83 504.09 L298.17 504.05 L298.5 504.01 L298.83 503.97 L299.17 503.93 L299.5 503.89 L299.83 503.85 L300.17 503.81 L300.5 503.77 L300.83 503.74 L301.16 503.7 L301.5 503.67 L301.83 503.64 L302.16 503.61 L302.5 503.58 L302.83 503.55 L303.16 503.52 L303.5 503.5 L303.83 503.47 L304.16 503.45 L304.49 503.43 L304.83 503.41 L305.16 503.39 L305.49 503.37 L305.83 503.35 L306.16 503.34 L306.49 503.33 L306.83 503.32 L307.16 503.31 L307.49 503.3 L307.82 503.29 L308.16 503.29 L308.49 503.28 L308.82 503.28 L309.16 503.28 L309.49 503.28 L309.82 503.28 L310.16 503.28 L310.49 503.29 L310.82 503.29 L311.15 503.3 L311.49 503.3 L311.82 503.31 L312.15 503.32 L312.49 503.33 L312.82 503.34 L313.15 503.35 L313.49 503.36 L313.82 503.38 L314.15 503.39 L314.48 503.41 L314.82 503.42 L315.15 503.44 L315.48 503.45 L315.82 503.47 L316.15 503.49 L316.48 503.51 L316.82 503.53 L317.15 503.54 L317.48 503.56 L317.81 503.58 L318.15 503.61 L318.48 503.63 L318.81 503.65 L319.15 503.67 L319.48 503.69 L319.81 503.71 L320.15 503.74 L320.48 503.76 L320.81 503.78 L321.14 503.8 L321.48 503.83 L321.81 503.85 L322.14 503.87 L322.48 503.89 L322.81 503.92 L323.14 503.94 L323.48 503.96 L323.81 503.98 L324.14 504.01 L324.48 504.03 L324.81 504.05 L325.14 504.07 L325.47 504.09 L325.81 504.11 L326.14 504.13 L326.47 504.15 L326.81 504.17 L327.14 504.19 L327.47 504.21 L327.81 504.23 L328.14 504.24 L328.47 504.26 L328.8 504.28 L329.14 504.29 L329.47 504.31 L329.8 504.32 L330.14 504.33 L330.47 504.34 L330.8 504.36 L331.14 504.37 L331.47 504.38 L331.8 504.39 L332.13 504.39 L332.47 504.4 L332.8 504.41 L333.13 504.41 L333.47 504.42 L333.8 504.42 L334.13 504.43 L334.47 504.43 L334.8 504.43 L335.13 504.43 L335.46 504.43 L335.8 504.43 L336.13 504.43 L336.46 504.43 L336.8 504.43 L337.13 504.43 L337.46 504.43 L337.8 504.42 L338.13 504.42 L338.46 504.41 L338.79 504.41 L339.13 504.4 L339.46 504.4 L339.79 504.39 L340.13 504.38 L340.46 504.38 L340.79 504.37 L341.13 504.36 L341.46 504.35 L341.79 504.34 L342.12 504.33 L342.46 504.33 L342.79 504.32 L343.12 504.3 L343.46 504.29 L343.79 504.28 L344.12 504.27 L344.46 504.26 L344.79 504.25 L345.12 504.24 L345.45 504.22 L345.79 504.21 L346.12 504.2 L346.45 504.19 L346.79 504.17 L347.12 504.16 L347.45 504.15 L347.79 504.13 L348.12 504.12 L348.45 504.11 L348.78 504.09 L349.12 504.08 L349.45 504.06 L349.78 504.05 L350.12 504.04 L350.45 504.02 L350.78 504.01 L351.12 503.99 L351.45 503.98 L351.78 503.97 L352.11 503.95 L352.45 503.94 L352.78 503.92 L353.11 503.91 L353.45 503.9 L353.78 503.88 L354.11 503.87 L354.45 503.86 L354.78 503.84 L355.11 503.83 L355.44 503.82 L355.78 503.8 L356.11 503.79 L356.44 503.78 L356.78 503.77 L357.11 503.76 L357.44 503.74 L357.78 503.73 L358.11 503.72 L358.44 503.71 L358.77 503.7 L359.11 503.69 L359.44 503.68 L359.77 503.67 L360.11 503.66 L360.44 503.65 L360.77 503.64 L361.11 503.63 L361.44 503.62 L361.77 503.61 L362.1 503.6 L362.44 503.59 L362.77 503.58 L363.1 503.57 L363.44 503.56 L363.77 503.55 L364.1 503.54 L364.44 503.54 L364.77 503.53 L365.1 503.52 L365.44 503.51 L365.77 503.51 L366.1 503.5 L366.43 503.49 L366.77 503.48 L367.1 503.48 L367.43 503.47 L367.77 503.47 L368.1 503.46 L368.43 503.45 L368.77 503.45 L369.1 503.44 L369.43 503.44 L369.76 503.43 L370.1 503.43 L370.43 503.42 L370.76 503.42 L371.1 503.42 L371.43 503.41 L371.76 503.41 L372.1 503.41 L372.43 503.4 L372.76 503.4 L373.09 503.4 L373.43 503.4 L373.76 503.39 L374.09 503.39 L374.43 503.39 L374.76 503.39 L375.09 503.39 L375.43 503.39 L375.76 503.39 L376.09 503.38 L376.42 503.38 L376.76 503.38 L377.09 503.38 L377.42 503.39 L377.76 503.39 L378.09 503.39 L378.42 503.39 L378.76 503.39 L379.09 503.39 L379.42 503.39 L379.75 503.4 L380.09 503.4 L380.42 503.4 L380.75 503.4 L381.09 503.41 L381.42 503.41 L381.75 503.41 L382.09 503.42 L382.42 503.42 L382.75 503.43 L383.08 503.43 L383.42 503.43 L383.75 503.44 L384.08 503.44 L384.42 503.45 L384.75 503.45 L385.08 503.46 L385.42 503.46 L385.75 503.47 L386.08 503.48 L386.41 503.48 L386.75 503.49 L387.08 503.5 L387.41 503.5 L387.75 503.51 L388.08 503.52 L388.41 503.52 L388.75 503.53 L389.08 503.54 L389.41 503.54 L389.74 503.55 L390.08 503.56 L390.41 503.57 L390.74 503.57 L391.08 503.58 L391.41 503.59 L391.74 503.6 L392.08 503.61 L392.41 503.62 L392.74 503.62 L393.07 503.63 L393.41 503.64 L393.74 503.65 L394.07 503.66 L394.41 503.67 L394.74 503.68 L395.07 503.69 L395.41 503.7 L395.74 503.7 L396.07 503.71 L396.4 503.72 L396.74 503.73 L397.07 503.74 L397.4 503.75 L397.74 503.76 L398.07 503.77 L398.4 503.78 L398.74 503.79 L399.07 503.8 L399.4 503.81 L399.73 503.82 L400.07 503.83 L400.4 503.84 L400.73 503.85 L401.07 503.86 L401.4 503.87" fill="none" stroke="#008000" stroke-width="3.4" stroke-linejoin="round" stroke-linecap="butt"/>
<path d="M47.2 548.6 L248.8 548.6 L249.13 548.53 L249.47 548.32 L249.8 547.95 L250.13 547.43 L250.46 546.75 L250.8 545.91 L251.13 544.95 L251.46 543.89 L251.8 542.75 L252.13 541.56 L252.46 540.34 L252.8 539.09 L253.13 537.83 L253.46 536.55 L253.8 535.26 L254.13 533.97 L254.46 532.68 L254.8 531.41 L255.13 530.14 L255.46 528.9 L255.8 527.68 L256.13 526.5 L256.46 525.35 L256.8 524.24 L257.13 523.17 L257.46 522.13 L257.79 521.12 L258.13 520.13 L258.46 519.16 L258.79 518.21 L259.13 517.28 L259.46 516.35 L259.79 515.42 L260.13 514.49 L260.46 513.56 L260.79 512.62 L261.13 511.68 L261.46 510.74 L261.79 509.8 L262.13 508.88 L262.46 507.96 L262.79 507.07 L263.13 506.2 L263.46 505.36 L263.79 504.55 L264.13 503.78 L264.46 503.06 L264.79 502.37 L265.13 501.72 L265.46 501.12 L265.79 500.54 L266.12 500.01 L266.46 499.5 L266.79 499.03 L267.12 498.59 L267.46 498.17 L267.79 497.79 L268.12 497.43 L268.46 497.09 L268.79 496.78 L269.12 496.48 L269.46 496.21 L269.79 495.96 L270.12 495.73 L270.46 495.52 L270.79 495.33 L271.12 495.15 L271.46 495 L271.79 494.87 L272.12 494.75 L272.46 494.66 L272.79 494.58 L273.12 494.53 L273.45 494.49 L273.79 494.47 L274.12 494.47 L274.45 494.49 L274.79 494.52 L275.12 494.57 L275.45 494.64 L275.79 494.73 L276.12 494.83 L276.45 494.94 L276.79 495.07 L277.12 495.21 L277.45 495.37 L277.79 495.53 L278.12 495.71 L278.45 495.9 L278.79 496.09 L279.12 496.3 L279.45 496.51 L279.79 496.73 L280.12 496.95 L280.45 497.18 L280.79 497.42 L281.12 497.66 L281.45 497.9 L281.78 498.15 L282.12 498.4 L282.45 498.66 L282.78 498.91 L283.12 499.17 L283.45 499.43 L283.78 499.7 L284.12 499.96 L284.45 500.23 L284.78 500.49 L285.12 500.75 L285.45 501.02 L285.78 501.28 L286.12 501.54 L286.45 501.8 L286.78 502.06 L287.12 502.32 L287.45 502.57 L287.78 502.82 L288.12 503.07 L288.45 503.31 L288.78 503.55 L289.11 503.78 L289.45 504.01 L289.78 504.23 L290.11 504.45 L290.45 504.66 L290.78 504.87 L291.11 505.07 L291.45 505.27 L291.78 505.46 L292.11 505.64 L292.45 505.82 L292.78 505.99 L293.11 506.16 L293.45 506.32 L293.78 506.48 L294.11 506.62 L294.45 506.77 L294.78 506.9 L295.11 507.03 L295.45 507.15 L295.78 507.27 L296.11 507.38 L296.45 507.48 L296.78 507.58 L297.11 507.67 L297.44 507.75 L297.78 507.83 L298.11 507.9 L298.44 507.96 L298.78 508.02 L299.11 508.06 L299.44 508.1 L299.78 508.14 L300.11 508.16 L300.44 508.18 L300.78 508.19 L301.11 508.2 L301.44 508.19 L301.78 508.18 L302.11 508.16 L302.44 508.14 L302.78 508.1 L303.11 508.06 L303.44 508.02 L303.78 507.97 L304.11 507.91 L304.44 507.85 L304.77 507.78 L305.11 507.71 L305.44 507.63 L305.77 507.54 L306.11 507.46 L306.44 507.36 L306.77 507.27 L307.11 507.17 L307.44 507.06 L307.77 506.95 L308.11 506.84 L308.44 506.73 L308.77 506.61 L309.11 506.49 L309.44 506.37 L309.77 506.25 L310.11 506.12 L310.44 505.99 L310.77 505.86 L311.11 505.73 L311.44 505.6 L311.77 505.47 L312.1 505.33 L312.44 505.2 L312.77 505.07 L313.1 504.93 L313.44 504.8 L313.77 504.66 L314.1 504.53 L314.44 504.4 L314.77 504.27 L315.1 504.14 L315.44 504.01 L315.77 503.88 L316.1 503.75 L316.44 503.63 L316.77 503.51 L317.1 503.39 L317.44 503.27 L317.77 503.16 L318.1 503.04 L318.44 502.93 L318.77 502.82 L319.1 502.72 L319.44 502.61 L319.77 502.51 L320.1 502.41 L320.43 502.31 L320.77 502.22 L321.1 502.13 L321.43 502.04 L321.77 501.95 L322.1 501.87 L322.43 501.79 L322.77 501.71 L323.1 501.63 L323.43 501.56 L323.77 501.49 L324.1 501.42 L324.43 501.35 L324.77 501.29 L325.1 501.23 L325.43 501.18 L325.77 501.13 L326.1 501.08 L326.43 501.03 L326.77 500.99 L327.1 500.95 L327.43 500.91 L327.76 500.88 L328.1 500.85 L328.43 500.82 L328.76 500.8 L329.1 500.78 L329.43 500.77 L329.76 500.75 L330.1 500.75 L330.43 500.74 L330.76 500.74 L331.1 500.74 L331.43 500.75 L331.76 500.76 L332.1 500.77 L332.43 500.79 L332.76 500.81 L333.1 500.83 L333.43 500.86 L333.76 500.89 L334.1 500.92 L334.43 500.95 L334.76 500.99 L335.1 501.03 L335.43 501.07 L335.76 501.11 L336.09 501.16 L336.43 501.21 L336.76 501.26 L337.09 501.31 L337.43 501.36 L337.76 501.42 L338.09 501.48 L338.43 501.53 L338.76 501.59 L339.09 501.66 L339.43 501.72 L339.76 501.78 L340.09 501.85 L340.43 501.91 L340.76 501.98 L341.09 502.04 L341.43 502.11 L341.76 502.18 L342.09 502.25 L342.43 502.31 L342.76 502.38 L343.09 502.45 L343.42 502.52 L343.76 502.59 L344.09 502.66 L344.42 502.73 L344.76 502.79 L345.09 502.86 L345.42 502.93 L345.76 502.99 L346.09 503.06 L346.42 503.12 L346.76 503.18 L347.09 503.25 L347.42 503.31 L347.76 503.37 L348.09 503.43 L348.42 503.49 L348.76 503.55 L349.09 503.6 L349.42 503.66 L349.76 503.72 L350.09 503.77 L350.42 503.82 L350.76 503.87 L351.09 503.93 L351.42 503.98 L351.75 504.02 L352.09 504.07 L352.42 504.12 L352.75 504.16 L353.09 504.21 L353.42 504.25 L353.75 504.29 L354.09 504.33 L354.42 504.37 L354.75 504.41 L355.09 504.44 L355.42 504.48 L355.75 504.51 L356.09 504.54 L356.42 504.57 L356.75 504.6 L357.09 504.63 L357.42 504.65 L357.75 504.68 L358.09 504.7 L358.42 504.72 L358.75 504.74 L359.08 504.76 L359.42 504.77 L359.75 504.78 L360.08 504.8 L360.42 504.81 L360.75 504.82 L361.08 504.82 L361.42 504.83 L361.75 504.83 L362.08 504.83 L362.42 504.83 L362.75 504.83 L363.08 504.82 L363.42 504.81 L363.75 504.81 L364.08 504.8 L364.42 504.78 L364.75 504.77 L365.08 504.75 L365.42 504.74 L365.75 504.72 L366.08 504.7 L366.42 504.68 L366.75 504.66 L367.08 504.63 L367.41 504.61 L367.75 504.58 L368.08 504.56 L368.41 504.53 L368.75 504.5 L369.08 504.47 L369.41 504.44 L369.75 504.41 L370.08 504.37 L370.41 504.34 L370.75 504.31 L371.08 504.27 L371.41 504.24 L371.75 504.2 L372.08 504.17 L372.41 504.13 L372.75 504.1 L373.08 504.06 L373.41 504.02 L373.75 503.99 L374.08 503.95 L374.41 503.91 L374.74 503.88 L375.08 503.84 L375.41 503.8 L375.74 503.77 L376.08 503.73 L376.41 503.7 L376.74 503.66 L377.08 503.62 L377.41 503.59 L377.74 503.55 L378.08 503.52 L378.41 503.49 L378.74 503.45 L379.08 503.42 L379.41 503.39 L379.74 503.36 L380.08 503.33 L380.41 503.3 L380.74 503.27 L381.08 503.24 L381.41 503.21 L381.74 503.18 L382.07 503.16 L382.41 503.13 L382.74 503.11 L383.07 503.08 L383.41 503.06 L383.74 503.04 L384.07 503.02 L384.41 503 L384.74 502.98 L385.07 502.97 L385.41 502.95 L385.74 502.94 L386.07 502.92 L386.41 502.91 L386.74 502.9 L387.07 502.89 L387.41 502.89 L387.74 502.88 L388.07 502.88 L388.41 502.87 L388.74 502.87 L389.07 502.87 L389.41 502.87 L389.74 502.87 L390.07 502.87 L390.4 502.88 L390.74 502.88 L391.07 502.89 L391.4 502.89 L391.74 502.9 L392.07 502.91 L392.4 502.92 L392.74 502.93 L393.07 502.94 L393.4 502.95 L393.74 502.96 L394.07 502.98 L394.4 502.99 L394.74 503 L395.07 503.02 L395.4 503.03 L395.74 503.05 L396.07 503.07 L396.4 503.09 L396.74 503.1 L397.07 503.12 L397.4 503.14 L397.73 503.16 L398.07 503.18 L398.4 503.2 L398.73 503.22 L399.07 503.24 L399.4 503.26 L399.73 503.28 L400.07 503.3 L400.4 503.32 L400.73 503.34 L401.07 503.36 L401.4 503.39" fill="none" stroke="#0000ff" stroke-width="3.4" stroke-linejoin="round" stroke-linecap="butt"/>
<line x1="325.4" y1="420.5" x2="361.3" y2="420.5" stroke="#ff0000" stroke-width="3.4"/>
<text x="366.5" y="425.8" font-size="16">TP<tspan font-size="11.5" dy="4.2">2</tspan></text>
<line x1="325.4" y1="443.6" x2="361.3" y2="443.6" stroke="#008000" stroke-width="3.4"/>
<text x="366.5" y="448.9" font-size="16">TP<tspan font-size="11.5" dy="4.2">4</tspan></text>
<line x1="325.4" y1="466.9" x2="361.3" y2="466.9" stroke="#0000ff" stroke-width="3.4"/>
<text x="366.5" y="472.2" font-size="16">TP<tspan font-size="11.5" dy="4.2">8</tspan></text>
<text transform="translate(372.0 144.8) scale(0.78 1)" font-size="30" style="stroke-width:0.5px">a</text>
<text transform="translate(370.6 342.6) scale(1.0 1)" font-size="30" style="stroke-width:0.5px">b</text>
<text transform="translate(371.8 543.6) scale(0.95 1)" font-size="30" style="stroke-width:0.5px">c</text>
<text transform="translate(473.6 527.2) scale(1.0 1)" font-size="30" style="stroke-width:0.5px">d</text>
<text x="226.4" y="191.8" font-size="21.5" text-anchor="middle" style="stroke-width:0.05px"><tspan font-style="italic">r</tspan> (&#963;)</text>
<text x="225.2" y="390.0" font-size="21.5" text-anchor="middle" style="stroke-width:0.05px"><tspan font-style="italic">r</tspan> (&#963;)</text>
<text x="225.2" y="593.0" font-size="21.5" text-anchor="middle" style="stroke-width:0.05px"><tspan font-style="italic">r</tspan> (&#963;)</text>
<text transform="translate(20.3 127.0) rotate(-90)" font-size="21.6" style="stroke-width:0.05px"><tspan font-style="italic">&#961;</tspan><tspan font-size="14.5" dy="5">NP-m</tspan><tspan x="54.62" dy="-5">(</tspan><tspan x="61.33">&#963;</tspan><tspan x="74.9" font-size="15" dy="-8">-</tspan><tspan x="79.85" font-size="15">3</tspan><tspan x="88.92" dy="8">)</tspan></text>
<text transform="translate(19.3 309.3) rotate(-90)" font-size="21.6" style="stroke-width:0.05px"><tspan font-style="italic">g</tspan>(<tspan font-style="italic">r</tspan>)<tspan font-size="14.5" dy="5">m-m</tspan></text>
<text transform="translate(20.3 525.8) rotate(-90)" font-size="21.6" style="stroke-width:0.05px"><tspan font-style="italic">&#961;</tspan><tspan font-size="14.5" dy="5">TP-m</tspan><tspan x="53.5" dy="-5">(</tspan><tspan x="58.0">&#963;</tspan><tspan x="71.14" font-size="14.5" dy="-8">&#8722;</tspan><tspan x="79.3" font-size="14.5">3</tspan><tspan x="87.99" dy="8">)</tspan></text>
<polygon points="463.4,56 505.7,56 685,346.9 685,542.4 463.4,191.96" fill="#d7e9cf"/>
<line x1="464.4" y1="56.4" x2="683.5" y2="56.4" stroke="#111" stroke-width="1.4" stroke-dasharray="3.8 2.1"/>
<path d="M684.5 9.3 H463.4 M684.5 541.4 H463.4 V9.3 M463.4 541.4 V544.4 M476.89 541.4 V543.0 M484.78 541.4 V543.0 M490.37 541.4 V543.0 M494.71 541.4 V543.0 M498.26 541.4 V543.0 M501.26 541.4 V543.0 M503.86 541.4 V543.0 M506.15 541.4 V543.0 M508.2 541.4 V544.4 M521.69 541.4 V543.0 M529.58 541.4 V543.0 M535.17 541.4 V543.0 M539.51 541.4 V543.0 M543.06 541.4 V543.0 M546.06 541.4 V543.0 M548.66 541.4 V543.0 M550.95 541.4 V543.0 M553 541.4 V544.4 M566.49 541.4 V543.0 M574.38 541.4 V543.0 M579.97 541.4 V543.0 M584.31 541.4 V543.0 M587.86 541.4 V543.0 M590.86 541.4 V543.0 M593.46 541.4 V543.0 M595.75 541.4 V543.0 M597.8 541.4 V544.4 M611.29 541.4 V543.0 M619.18 541.4 V543.0 M624.77 541.4 V543.0 M629.11 541.4 V543.0 M632.66 541.4 V543.0 M635.66 541.4 V543.0 M638.26 541.4 V543.0 M640.55 541.4 V543.0 M642.6 541.4 V544.4 M656.09 541.4 V543.0 M663.98 541.4 V543.0 M669.57 541.4 V543.0 M673.91 541.4 V543.0 M677.46 541.4 V543.0 M680.46 541.4 V543.0 M683.06 541.4 V543.0 M463.4 467.4 H460.4 M463.4 56 H460.4 M463.4 531.13 H461.79999999999995 M463.4 507.27 H461.79999999999995 M463.4 486.22 H461.79999999999995 M463.4 343.56 H461.79999999999995 M463.4 271.11 H461.79999999999995 M463.4 219.71 H461.79999999999995 M463.4 179.84 H461.79999999999995 M463.4 147.27 H461.79999999999995 M463.4 119.73 H461.79999999999995 M463.4 95.87 H461.79999999999995 M463.4 74.82 H461.79999999999995 M485.41 9.3 V10.9 M683.5 62.51 H681.9 M507.42 9.3 V12.5 M683.5 115.72 H680.3 M529.43 9.3 V10.9 M683.5 168.93 H681.9 M551.44 9.3 V12.5 M683.5 222.14 H680.3 M573.45 9.3 V10.9 M683.5 275.35 H681.9 M595.46 9.3 V12.5 M683.5 328.56 H680.3 M617.47 9.3 V10.9 M683.5 381.77 H681.9 M639.48 9.3 V12.5 M683.5 434.98 H680.3 M661.49 9.3 V10.9 M683.5 488.19 H681.9" fill="none" stroke="#3a3a3a" stroke-width="1.1"/>
<rect x="683" y="8.8" width="1" height="533.1" fill="#707070"/><rect x="684" y="8.8" width="1" height="533.1" fill="#b8b8b8"/>
<text x="463.7" y="557.8" font-size="11.5" text-anchor="middle">10<tspan font-size="8.3" dy="-4.8">-4</tspan></text>
<text x="508.5" y="557.8" font-size="11.5" text-anchor="middle">10<tspan font-size="8.3" dy="-4.8">-3</tspan></text>
<text x="553.3" y="557.8" font-size="11.5" text-anchor="middle">10<tspan font-size="8.3" dy="-4.8">-2</tspan></text>
<text x="598.1" y="557.8" font-size="11.5" text-anchor="middle">10<tspan font-size="8.3" dy="-4.8">-1</tspan></text>
<text x="642.9" y="557.8" font-size="11.5" text-anchor="middle">10<tspan font-size="8.3" dy="-4.8">0</tspan></text>
<text x="457.8" y="60.7" font-size="11.5" text-anchor="end">10<tspan font-size="8.3" dy="-4.8">0</tspan></text>
<text x="457.6" y="471.9" font-size="11.5" text-anchor="end">10<tspan font-size="8.3" dy="-4.8">-1</tspan></text>
<text x="573.6" y="582.2" font-size="24.5" text-anchor="middle" style="stroke-width:0.05px"><tspan font-style="italic">V</tspan><tspan font-size="21" dx="-0.5">*</tspan></text>
<text transform="translate(440.5 273.6) rotate(-90)" font-size="24" text-anchor="middle" font-style="italic" style="stroke-width:0">&#951;/&#951;<tspan font-size="16" dy="4" font-style="normal">0</tspan></text>
<line x1="468" y1="90.1" x2="675.7" y2="427.6" stroke="#000" stroke-width="3"/>
<path d="M479.1 81.5 V118.3 M476.90000000000003 81.5 H481.3 M476.90000000000003 118.3 H481.3" stroke="#77cc99" stroke-width="0.8" fill="none"/>
<path d="M518.4 92.1 V153.1 M516.1999999999999 92.1 H520.6 M516.1999999999999 153.1 H520.6" stroke="#ee66ee" stroke-width="0.8" fill="none"/>
<path d="M479.1 129.4 V159.2 M476.90000000000003 129.4 H481.3 M476.90000000000003 159.2 H481.3" stroke="#666" stroke-width="0.8" fill="none"/>
<path d="M545.8 274.4 V304.8 M543.5999999999999 274.4 H548.0 M543.5999999999999 304.8 H548.0" stroke="#666" stroke-width="0.8" fill="none"/>
<path d="M555.0 142.0 V209.5 M552.8 142.0 H557.2 M552.8 209.5 H557.2" stroke="#8a8a8a" stroke-width="0.8" fill="none"/>
<path d="M611.5 362.0 V407.0 M609.3 362.0 H613.7 M609.3 407.0 H613.7" stroke="#8a8a8a" stroke-width="0.8" fill="none"/>
<path d="M655.4 424.3 V496.3 M653.1999999999999 424.3 H657.6 M653.1999999999999 496.3 H657.6" stroke="#8a8a8a" stroke-width="0.8" fill="none"/>
<path d="M668.5 498.3 V498.3 M666.3 498.3 H670.7 M666.3 498.3 H670.7" stroke="#8a8a8a" stroke-width="0.8" fill="none"/>
<path d="M668.5 419 V498.3" stroke="#8a8a8a" stroke-width="0.8"/>
<polygon points="479.1,90.6 471.5,102.0 486.70000000000005,102.0" fill="#fff" stroke="#3dbb6e" stroke-width="2.2" stroke-linejoin="miter"/>
<path d="M477.1 98.2 H481.1 M477.1 96.60000000000001 V99.8 M481.1 96.60000000000001 V99.8" stroke="#88ddaa" stroke-width="0.8" fill="none"/>
<polygon points="518.4,112.0 510.79999999999995,123.6 526.0,123.6" fill="#fff" stroke="#ff00ff" stroke-width="2.2" stroke-linejoin="miter"/>
<path d="M516.4 119.6 H520.4 M516.4 118.0 V121.19999999999999 M520.4 118.0 V121.19999999999999" stroke="#ff88ff" stroke-width="0.8" fill="none"/>
<polygon points="545.8,218.6 537.8,231.1 553.8,231.1" fill="#fff" stroke="#0000ff" stroke-width="2.2" stroke-linejoin="miter"/>
<path d="M543.8 226.0 H547.8 M543.8 224.4 V227.6 M547.8 224.4 V227.6" stroke="#6666ff" stroke-width="0.8" fill="none"/>
<polygon points="479.1,133.79999999999998 488.40000000000003,143.1 479.1,152.4 469.8,143.1" fill="#3dbb6e" stroke="#111" stroke-width="1.1"/>
<path d="M471.3 143.1 H486.90000000000003 M477.20000000000005 141.29999999999998 V144.9 M481.0 141.29999999999998 V144.9" stroke="#1d5c36" stroke-width="0.9" fill="none"/>
<polygon points="518.4,204.20000000000002 527.6,213.4 518.4,222.6 509.2,213.4" fill="#ff00ff" stroke="#111" stroke-width="1.1"/>
<path d="M510.7 213.4 H526.1 M516.5 211.6 V215.20000000000002 M520.3 211.6 V215.20000000000002" stroke="#880088" stroke-width="0.9" fill="none"/>
<polygon points="545.8,279.20000000000005 555.1999999999999,288.6 545.8,298.0 536.4,288.6" fill="#0000ff" stroke="#111" stroke-width="1.1"/>
<path d="M537.9 288.6 H553.6999999999999 M543.9 286.8 V290.40000000000003 M547.6999999999999 286.8 V290.40000000000003" stroke="#000066" stroke-width="0.9" fill="none"/>
<polygon points="555,164.9 548.07,168.9 548.07,176.9 555,180.9 561.93,176.9 561.93,168.9" fill="#000"/>
<polygon points="611.5,375 604.57,379 604.57,387 611.5,391 618.43,387 618.43,379" fill="#000"/>
<polygon points="655.4,448.5 648.47,452.5 648.47,460.5 655.4,464.5 662.33,460.5 662.33,452.5" fill="#000"/>
<polygon points="668.5,445 661.57,449 661.57,457 668.5,461 675.43,457 675.43,449" fill="#000"/>
</svg>
</body></html>
